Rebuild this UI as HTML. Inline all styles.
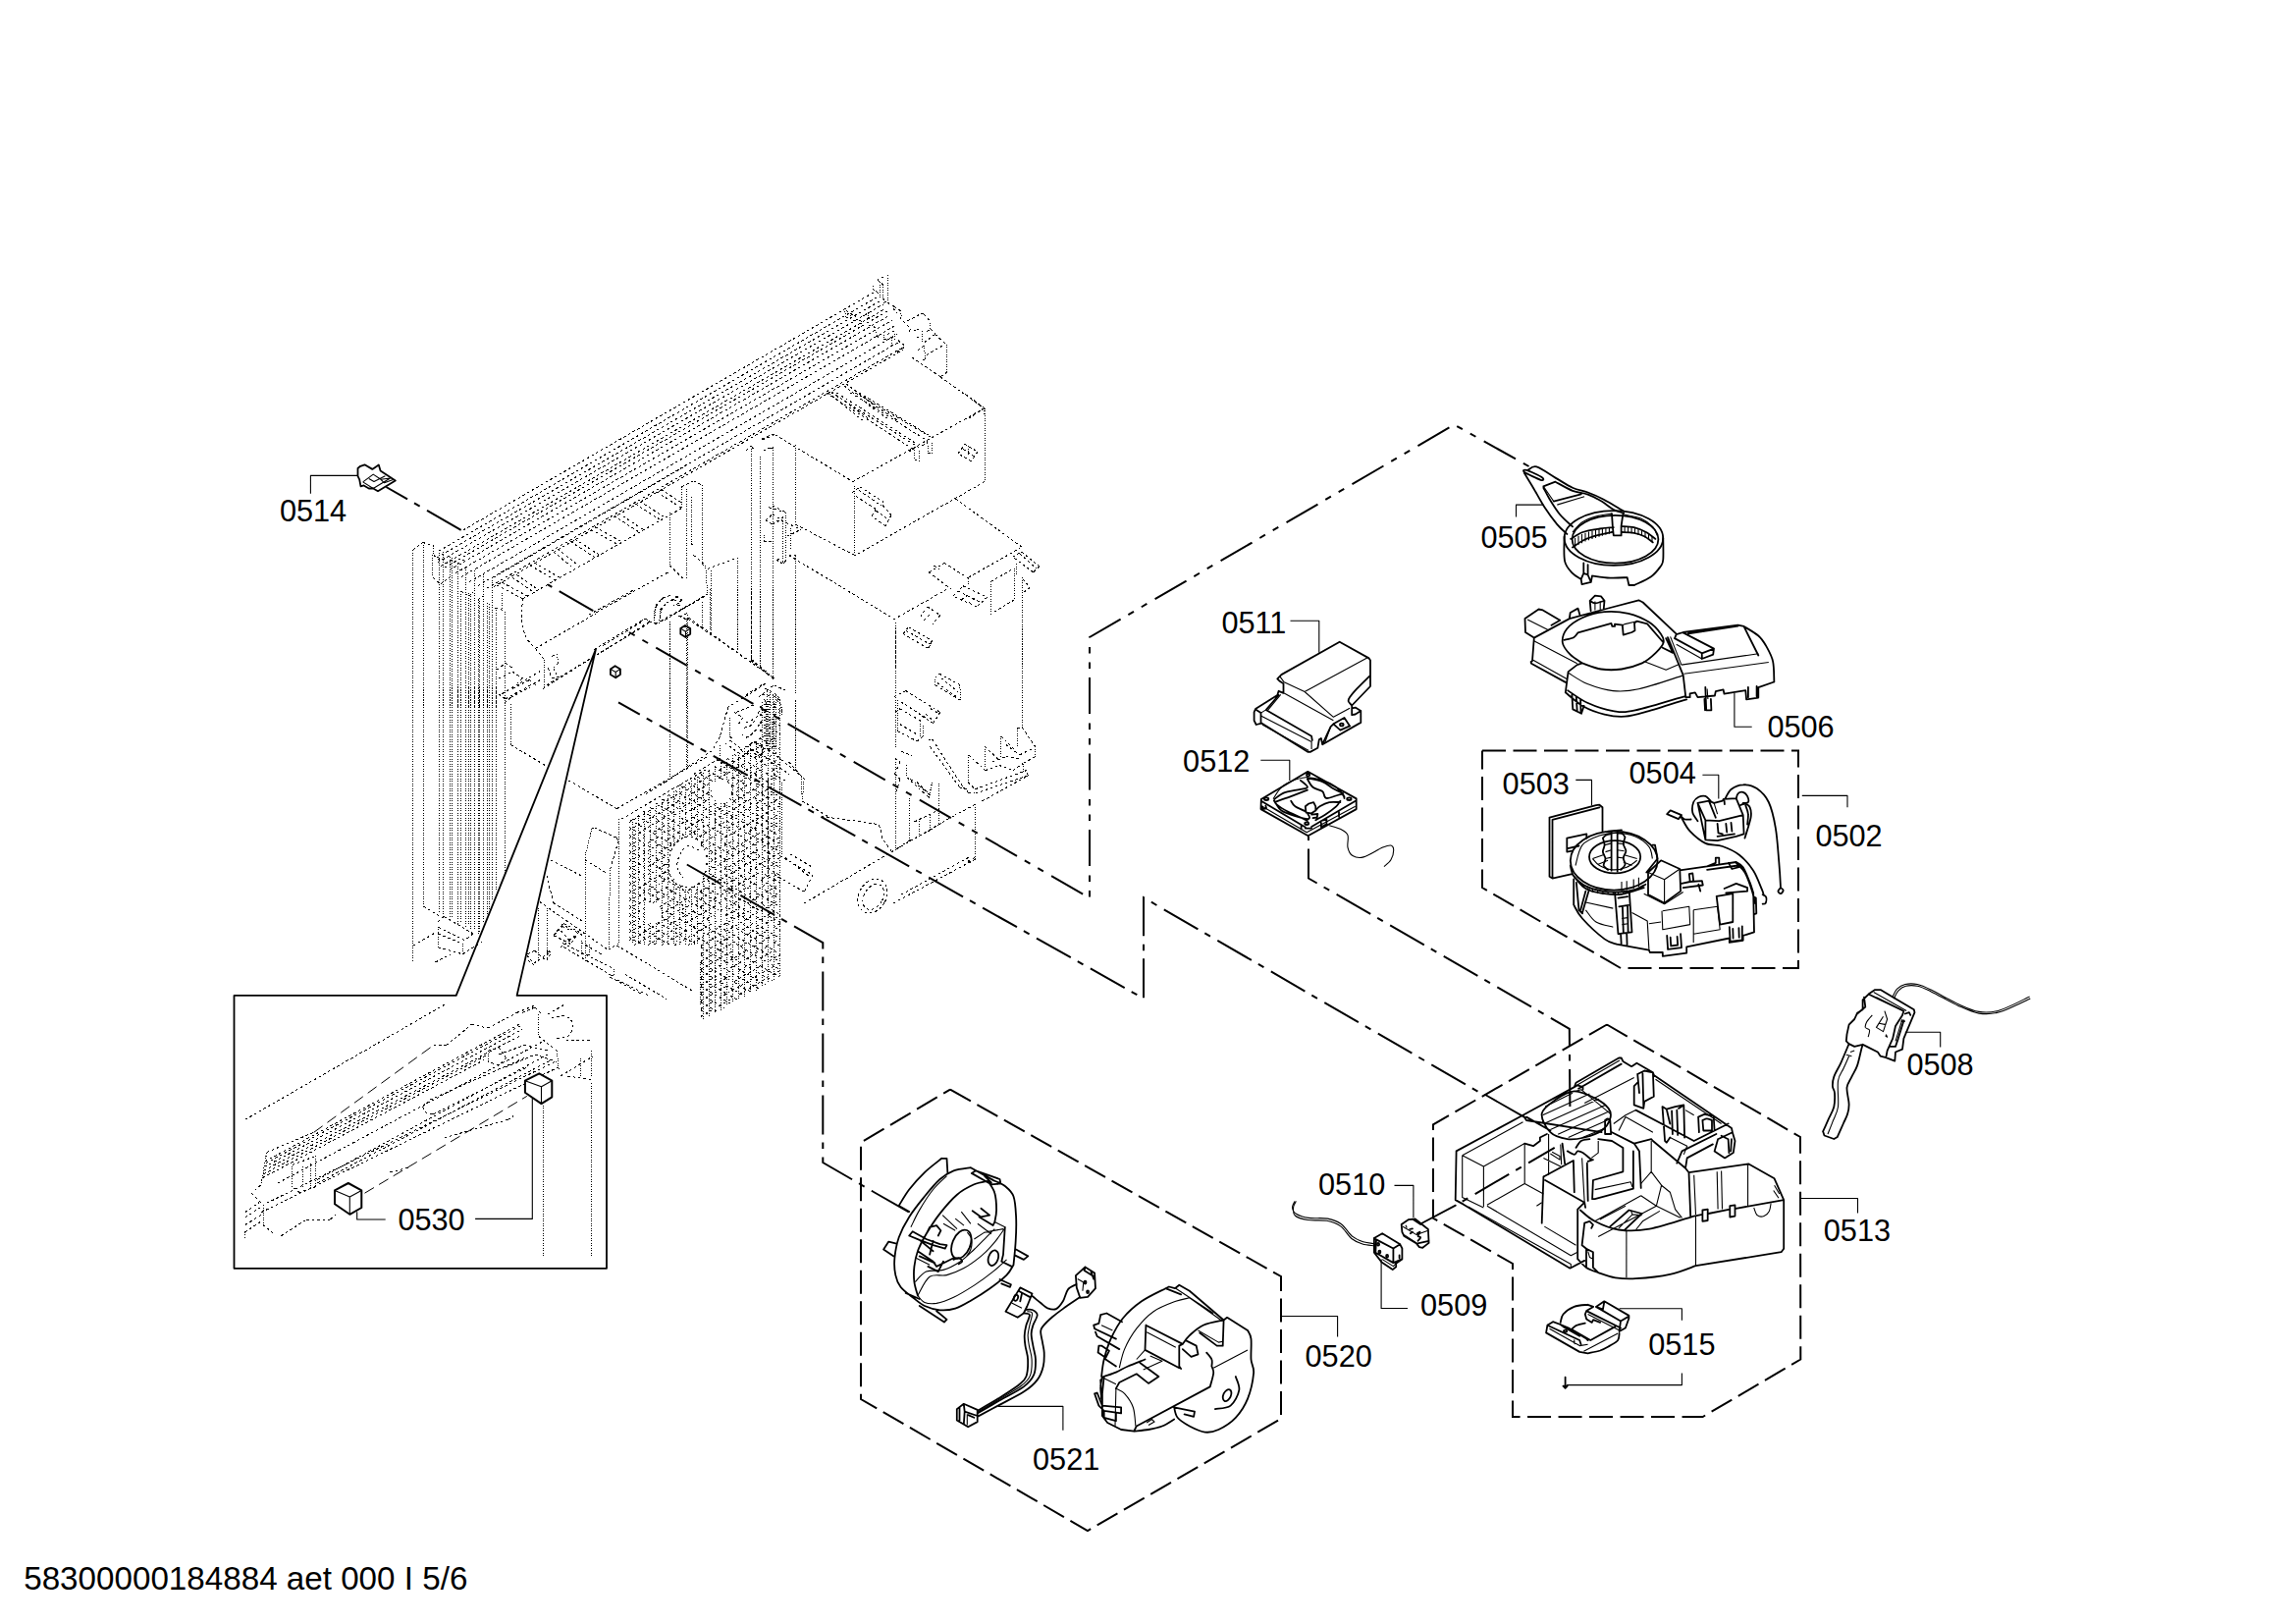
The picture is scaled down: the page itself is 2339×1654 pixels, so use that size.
<!DOCTYPE html><html><head><meta charset="utf-8"><title>0583 aet</title><style>html,body{margin:0;padding:0;background:#fff}svg{display:block}</style></head><body><svg width="2339" height="1654" viewBox="0 0 2339 1654"><rect width="2339" height="1654" fill="#fff"/><g fill="none" stroke="#000" stroke-width="1" stroke-dasharray="2.6 2.8" shape-rendering="crispEdges"><path d="M249.6 1140.4L454.6 1022.2M441.6 1064.6L454.6 1064.6M454.6 1064.6L480.4 1043.4M480.4 1043.4L497.1 1047.1M497.1 1047.1L526.6 1031.4M526.6 1031.4L545.1 1024M271.7 1173.6L319.7 1153.3M269.9 1182.9L530.3 1042.5M270.8 1184.7L531.2 1044.3M269.5 1188.4L531.8 1048.4M268.9 1192.1L532.2 1053.6M268.4 1195.8L497.1 1073.9M267.7 1199.5L493.4 1079.4M282.8 1205L552.5 1061M323.4 1201.3L558 1073.9M323.4 1205L561.7 1079.4M271.7 1225.3L565.4 1081.3M266.2 1234.6L569.1 1086.8M249.6 1254.9L266.2 1243.8M249.6 1247.5L268 1236.4M249.6 1240.1L266.2 1229M249.6 1234.6L264.3 1224.4M259.7 1212.4L268 1205M256 1215.2L268 1227.2M268 1247.5L279.1 1256.7M286.5 1258.6L312.4 1242M312.4 1242L336.4 1242M336.4 1242L341.9 1237.3M452.7 1158.8L517.4 1140.4M517.4 1140.4L522.9 1136.7M397.3 1193.9L415.8 1189.3M297.6 1186.6L321.6 1177.3M321.6 1208.7L305 1214.3M305 1214.3L297.6 1208.7M548.8 1055.4L567.2 1070.2M532.2 1031.4L545.1 1025.9M545.1 1025.9L552.5 1033.2M561.7 1036.9C564.2 1036.6 572.8 1033.9 576.5 1035.1C580.2 1036.3 583.6 1040.9 583.9 1044.3C584.2 1047.7 581.1 1053.3 578.3 1055.4C575.6 1057.6 569.1 1057 567.2 1057.3M430.6 1127.4L438 1120.1M438 1120.1L534 1077.6M430.6 1127.4C431.2 1128.4 432.4 1131.8 434.3 1133C436.1 1134.2 440.4 1134.5 441.6 1134.8M441.6 1134.8L537.7 1086.8M497.1 1070.2L508.1 1066.5M508.1 1066.5L515.5 1077.6M515.5 1077.6L508.1 1085M508.1 1085L497.1 1081.3M508.1 1073.9L534 1064.6M534 1064.6L559.9 1070.2M515.5 1086.8L545.1 1073.9M545.1 1073.9L567.2 1081.3M570.9 1096L604.2 1075.7M578.3 1096L602.3 1099.7M576.5 1059.1L604.2 1059.1M558 1033.2L576.5 1022.2M789.6 442.7L868.9 490.6M868.9 490.6L1003 415.7M1003 415.7L981.3 400M1003 490.6L871.5 565.5M810.5 534.1L870.6 565.5M841.9 400L931.6 458.4M931.6 467.9L936 469.7M847.1 400L936 455.7M866.3 400L944.7 448.8M945.5 461L949.9 461.8M871.5 400L949.9 446.2M925.5 460.1L931.6 456.6M939.4 454L944.7 450.5M852.3 400L934.2 452.3M875 400L948.2 444.4M976 461.8L983 452.3M983 452.3L996.1 460.1M996.1 460.1L989.1 469.7M989.1 469.7L976 461.8M981.3 457.5L991.7 464.5M868 501.9L875.9 495.8M875.9 495.8L900.2 511.5M899.4 515L908.1 524.6M908.1 524.6L902 535.9M902 535.9L888 525.4M888 525.4L892.4 518.5M892.4 518.5L870.6 504.5M875 499.3L897.6 515M892.4 520.2L904.6 528.9M787 515L800.9 522M800.9 570.7L797.5 574.2M797.5 574.2L787.9 568.1M780 529.8L787 523.7M787 523.7L797.5 530.7M780 529.8L787 534.1M787 534.1L794.8 529.8M778.3 551.6L786.1 551.6M800.9 532.4L815.7 539.4M801.8 546.3L815.7 539.4M803.6 565.5L810.5 565.5M803.6 565.5L911.6 630.8M915.1 628.2L967.3 598.6M986.5 588.2L1038.7 558.5M973.4 508L1040.5 556.8M1009.1 592.5L1033.5 578.6M1033.5 610.8L1009.1 625.6M946.4 582.9L962.1 573.3M962.1 573.3L986.5 589M946.4 582.9L969.1 600.3M951.6 576L956.9 579.4M970.8 607.3L981.3 596.9M981.3 596.9L1005.6 608.2M1005.6 608.2L995.2 617.8M995.2 617.8L970.8 607.3M976 602.1L1000.4 614.3M979.5 610.8L986.5 605.6M986.5 614.3L993.4 609.1M1031.8 567.2L1040.5 562M1040.5 562L1058.8 576.8M1058.8 576.8L1052.7 582.9M1052.7 582.9L1031.8 567.2M1038.7 563.8L1056.2 579.4M1042.2 589.9L1049.2 598.6M1049.2 598.6L1042.2 603.8M937.7 628.2L944.7 617.8M944.7 617.8L957.7 626.5M957.7 626.5L949.9 636.1M941.2 631.7L948.2 624.7M920.3 645.6L925.5 638.7M925.5 638.7L949.9 652.6M949.9 652.6L945.5 660.5M945.5 660.5L920.3 645.6M922.9 642.2L947.3 656.1M949 653.5L945.5 660.5M765.2 671.8L772.2 678.7M760 459.2L765.2 454M776.6 447L786.1 442.7M786.1 442.7L789.6 442.7M777.4 459.2L787 454.9M900 282L894.2 285.1M894.2 285.1L899.4 289.8M889 294.5L895.3 298.7M899.4 303.9L902.6 307M902.6 307L899.4 309.1M904.1 308.1L910.9 312.3M910.9 312.3L917.2 316.4M918.3 322.7L916.2 325.9M909.9 314.4L914.1 318.5M861.3 322.7L866 324.8M866 319.6L872.3 322.7M861.8 316.4L870.2 321.7M869.1 326.9L877.5 326.9M879.6 321.7L884.8 318.5M884.8 323.8L881.7 326.9M884.8 331.1L891.1 333.2M893.2 341.5L895.3 343.6M900.5 345.7L908.8 343.6M903.6 340.5L910.9 337.3M915.1 346.8L920.3 350.9M920.3 354.1L914.1 358.3M924.5 326.9L938.1 319.6M938.1 319.6L941.3 320.1M941.3 320.1L947 326.4M920.3 326.9L927.7 335.3M927.7 335.3L924.5 339.4M930.8 337.3L933.9 335.3M933.9 335.3L939.2 337.3M933.9 343.6L938.1 342.6M944.4 337.3L948.6 335.3M948.6 335.3L952.7 340.5M952.7 340.5L964.2 350.9M964.8 379.2L958 383.9M952.7 340.5L941.3 348.8M960.1 352L943.3 361.9M942.8 365.6L940.2 366.6M941.3 352L932.9 358.3M929.2 364L958 383.9M958 383.9L1002.4 415.7M1002.4 415.7L985.2 427.2M859.7 392.7L889 415.7M889 415.7L906.8 428M861.8 390.7L893.2 414.7M893.2 414.7L914.1 428M844 400.1L878.5 428M847.2 399L886.9 428M471.6 540.1L893 296.1M447 561.2L896 301.2M445 568L898 305.7M446 572.7L900 309.9M449 576.7L902 314.4M453 578.1L904 317M458 580.6L906 321.2M464 583.7L909 326.1M470 587.5L911 332.2M478 592.8L914 340.4M487 596.5L916 348.1M496 599.2L919 354.3M503 597.7L920 356.3M420.6 560.2L430.5 552.4M430.5 552.4L441.8 555.9M440.9 588.1L444.4 590.7M441.8 565.4L450.5 572.4M440.9 588.1L448.8 595.1M448.8 595.1L457.5 588.1M466.2 574.1L473.2 569.8M469.7 602L477.5 607.2M477.5 607.2L481.9 603.8M487.1 610.7L492.3 607.2M504.5 619.4L511.5 621.2M502.8 588.1L696.2 475.7M506.3 595.9L532.4 609.9M532.4 609.9L696.2 516.7M511.5 593.3L537.6 607.2M522 588.1L544.6 603.8M526.3 585.5L549 601.1M540.2 575.9L565.5 590.7M544.6 573.3L569.9 588.1M563.8 562L582.9 577.6M568.1 559.3L588.2 575M581.2 551.5L606.4 568M585.5 548.9L610.8 565.4M602.1 539.3L630 555M606.4 536.7L634.3 552.4M625.6 525.4L650.9 541.9M630 522.8L655.2 539.3M647.4 513.2L671.8 528.9M651.7 510.6L676.1 526.2M669.2 501L694.4 517.5M673.5 498.4L696.2 513.2M532.4 609.9C532.3 613.5 531 625.1 531.5 631.6C532.1 638.2 533.6 644.3 535.9 649.1C538.2 653.9 543.9 658.5 545.5 660.4M545.5 660.4L607.3 624.7M607.3 623.8L682.2 582M545.5 660.4L554.2 671.7M553.3 701.3L661.3 633.4M661.3 633.4L668.3 635.1M668.3 635.1L720.6 605.5M556.8 697.8L657.8 636.9M515 711.8L553.3 690.9M511.5 706.6L549.8 683.9M506.3 682.2L515 675.2M515 675.2L522 680.4M508 690.9L522 683.9M522 683.9L532.4 690.9M532.4 690.9L525.4 697.8M522 701.3L539.4 692.6M539.4 692.6L548.1 699.6M562 668.2L567.2 666.5M569 675.2L563.8 680.4M563.8 680.4L567.2 687.4M558.5 680.4L562 690.9M562 690.9L570.7 689.1M682.2 575.9L696.2 589.8M704 553.2L706.6 556.7M715.3 574.1L718.8 577.6M694.4 495.7L706.6 489.7M706.6 489.7L715.3 494M706.6 565.4L718.8 575.9M720.6 579.4L751 568M668.3 617.7L675.3 609M675.3 609L685.7 605.5M673.5 621.2L678.7 614.2M678.7 614.2L687.5 610.7M685.7 611.6L689.2 607.2M689.2 607.2L694.4 610.7M694.4 610.7L692.7 616M692.7 616L687.5 616M687.5 624.7L720.6 605.5M692.7 628.2L699.7 624.7M701.4 629L788.5 690.9M776.3 447.8L788.5 443.5M765.9 455.7L769.3 457.4M787.6 455.7L783.3 457.4M765.9 671.7L788.5 690.9M783.3 516.7L800 521.9M779.8 528.9L786.8 534.1M786.8 534.1L800 525.4M778 551.5L788.5 551.5M792 568.9L800 574.1M772.8 710L788.5 697.8M788.5 697.8L800 703.1M431.4 923L447 932.6M520.2 758.4L555.1 779.3M514.1 715.7L520.2 710.5M520.2 710.5L539.4 700M508 707L515 712.2M446.2 938.7L452.3 933.4M452.3 933.4L481.9 950.9M481.9 950.9L473.2 957.8M473.2 957.8L446.2 943.9M446.2 964.8L471.4 971.8M446.2 950.9L471.4 961.3M420.9 963.1L441.8 950.9M443.6 980L459.2 971.8M471.4 971.8L490.6 959.6M579.4 794.9L628.2 823.7M628.2 823.7L722.3 769.7M633.4 834.1L722.3 781.9M603 843.7L605.6 842.9M605.6 842.9L628.2 853.3M628.2 853.3L630 856.8M630 856.8L621.3 886.4M596 876L617.8 889M561.1 876L595.1 893.4M556.8 891.6L563.8 919.5M563.8 919.5L596.9 940.4M549.8 918.6L619.5 967.4M619.5 967.4L630 961.3M563.8 952.6L574.2 940.4M574.2 940.4L589.9 949.1M589.9 949.1L581.2 961.3M581.2 961.3L563.8 952.6M570.7 964.8L581.2 957.8M537.6 971.8L544.6 968.3M544.6 968.3L556.8 978.7M556.8 968.3L561.1 971.8M561.1 971.8L556.8 977M591.6 959.6L612.5 971.8M774 720.5L786 713.5M774 728.5L792.9 717.5M774 736.5L795 724.3M774 744.5L784.3 738.5M754 764.1L787.9 744.4M641 837.6L666.3 822.9M669.4 821.2L694.6 806.5M702.7 801.8L725.3 788.7M732.5 784.6L758.6 769.4M761 768L789.2 751.7M641 845.6L658.2 835.6M660.4 834.3L691.2 816.5M696.5 813.4L723.8 797.6M731.9 792.9L759.1 777.1M767.5 772.2L787 760.9M641 853.6L672.1 835.6M674.8 834L688 826.3M691.6 824.3L724.7 805.1M741 795.6L766 781.1M770.1 778.7L792.3 765.9M641 861.6L659.4 850.9M665.5 847.4L689.5 833.5M697.9 828.6L724.2 813.3M745 801.3L775.6 783.6M784.5 778.4L795 772.3M641 869.6L671.7 851.8M680.4 846.8L712.1 828.4M718.1 824.9L731 817.4M745 809.3L775 791.9M781 788.4L795 780.3M641 877.6L671.5 859.9M680.4 854.8L692.5 847.7M700.2 843.3L720 831.8M723.1 830L740.1 820.1M747.5 815.9L778.4 797.9M780.7 796.6L795 788.3M641 885.6L668.2 869.8M672.6 867.3L688 858.4M697 853.1L719.1 840.3M728.1 835.1L745.6 825M748.1 823.5L772.5 809.4M774.7 808.1L789.4 799.5M641 893.6L652 887.2M660.1 882.5L677.6 872.4M708 854.8L739.5 836.5M744.2 833.8L765.2 821.6M770.9 818.3L795 804.3M641 901.6L664.4 888M670.8 884.4L681 878.4M714 859.3L734.3 847.5M741.4 843.4L757.1 834.3M761.2 831.9L794.7 812.5M641 909.6L664.2 896.2M666.2 895L681 886.4M717 865.5L727.5 859.5M733.8 855.8L759 841.2M761.4 839.8L786.4 825.3M791.7 822.2L795 820.3M641 917.6L668 902M675.1 897.8L684 892.7M719 872.4L745.2 857.2M754 852.1L770 842.8M775.2 839.8L795 828.3M641 925.6L659.7 914.8M663.9 912.3L682.8 901.4M719 880.4L736.2 870.4M740.8 867.7L769.4 851.2M771.6 849.9L795 836.3M641 933.6L657 924.3M665 919.7L694.3 902.7M717 889.5L731.5 881.1M736.5 878.2L763.3 862.7M766 861.1L783.7 850.8M788.1 848.3L795 844.3M641 941.6L656 932.9M672 923.6L690.1 913.2M696.6 909.4L727.9 891.2M733 888.2L748.4 879.3M751.3 877.7L774 864.5M777.3 862.6L795 852.3M641 949.6L655.4 941.3M674 930.5L703.4 913.5M707.8 910.9L720.9 903.3M724.9 900.9L754 884.1M757.9 881.8L776.2 871.2M781.1 868.4L795 860.3M641 957.6L673.1 939M676.2 937.2L686.3 931.3M694.9 926.4L726 908.3M734.9 903.1L755.4 891.3M764 886.3L795 868.3M646 962.7L673.9 946.5M681.7 942L707.7 927M713.3 923.7L730.2 913.9M734.6 911.3L750.1 902.4M752.6 900.9L776.7 886.9M780.7 884.6L795 876.3M660 962.6L691.7 944.2M698.5 940.2L730.7 921.6M739 916.8L770.6 898.5M776.6 895L786.9 889M674 962.5L699.9 947.5M705.6 944.2L725.5 932.6M734.1 927.6L758.8 913.3M763.2 910.8L779.2 901.4M787.3 896.8L795 892.3M687 962.9L705.4 952.2M708.8 950.3L731.7 937M739.4 932.6L753.5 924.4M761 920L793.1 901.4M701 962.8L730.8 945.6M732.8 944.4L757.9 929.8M765.9 925.2L777.1 918.7M781 916.4L795 908.3M714 963.3L734.2 951.6M739.5 948.5L768.1 931.9M770.1 930.7L781.4 924.2M784.3 922.5L795 916.3M714 971.3L747.4 951.9M755.4 947.3L767.4 940.3M773 937.1L790.5 926.9M714 979.3L738.1 965.3M742.6 962.7L757.2 954.2M761.5 951.7L774.5 944.2M780.4 940.8L795 932.3M714 987.3L725.9 980.4M729.2 978.5L748.1 967.5M754.4 963.9L783.1 947.2M787.8 944.5L795 940.3M714 995.3L734.4 983.5M739 980.8L760.9 968.1M767.8 964.1L787.9 952.4M714 1003.3L736.9 990M743.7 986L755.4 979.2M760.4 976.4L780.6 964.6M788.8 959.9L795 956.3M714 1011.3L745.5 993M753.1 988.6L769.4 979.2M774.6 976.1L787.6 968.6M714 1019.3L739.9 1004.3M748.1 999.5L777.1 982.7M783.8 978.8L795 972.3M714 1027.3L726.5 1020M732.6 1016.5L742.7 1010.6M745.7 1008.9L774.3 992.3M776.6 991L788.8 983.9M791.5 982.3L795 980.3M714 1035.3L724.6 1029.2M732.5 1024.6L745.4 1017.1M753.3 1012.5L779.4 997.3M787.3 992.8L795 988.3M791 713.4L795 715.7M779 714.4L795 723.7M774 719.5L795 731.7M774 727.5L795 739.7M774 735.5L785.5 742.2M789.7 744.6L795 747.7M774 743.5L789.8 752.7M774 751.5L795 763.7M768 756L786.8 767M791.6 769.7L795 771.7M761 760L773 766.9M778.5 770.1L795 779.7M755 764.5L782.9 780.7M786.1 782.5L795 787.7M748 768.4L774.2 783.6M779.8 786.9L795 795.7M741 772.4L772.5 790.7M775.6 792.4L787.9 799.6M734 776.3L766 794.9M771.6 798.1L792.3 810.1M728 780.8L742.5 789.2M746.3 791.5L761.1 800M767.2 803.6L784.8 813.8M788.4 815.9L795 819.7M721 784.8L737 794.1M741 796.4L760.9 807.9M768.9 812.6L792.9 826.5M714 788.7L728 796.8M745 806.7L766.5 819.2M771.2 821.9L785.3 830.1M789.8 832.7L795 835.7M707 792.7L720.4 800.5M743 813.5L764.5 826M770.7 829.6L791.9 841.9M701 797.2L726 811.7M737 818.1L758.6 830.6M765.6 834.6L795 851.7M694 801.1L721.6 817.1M730.3 822.2L751.5 834.5M755.2 836.6L770.8 845.7M777.8 849.7L795 859.7M688 805.6L718.5 823.3M722.2 825.5L736.7 833.9M740.5 836.1L755 844.5M762 848.5L792.6 866.3M681 809.6L697.1 818.9M705.2 823.6L722.7 833.8M727.7 836.6L755.2 852.6M757.8 854.1L770 861.2M777.8 865.7L794.8 875.6M675 814.1L698.9 828M705.7 831.9L715.8 837.8M720.2 840.3L740.6 852.2M746 855.3L761.1 864M767.2 867.6L795 883.7M668 818L691.1 831.4M693.9 833.1L710.5 842.7M717.2 846.5L729.9 853.9M738.1 858.7L769.9 877.1M772.6 878.7L795 891.7M662 822.6L690.5 839.1M697.8 843.3L714.9 853.3M721.7 857.2L747.4 872.1M755 876.5L771.4 886M778.7 890.2L795 899.7M655 826.5L677.9 839.8M680.7 841.4L700 852.6M714 860.7L741.2 876.5M748 880.4L771.6 894.1M774.9 896L795 907.7M649 831L663.3 839.3M671.5 844.1L691 855.4M719 871.6L751.4 890.4M754.4 892.1L772.3 902.5M779.4 906.6L795 915.7M642 835L667.5 849.8M672.7 852.8L686 860.5M719 879.6L730.6 886.4M737.7 890.4L765.8 906.7M771.6 910.1L795 923.7M641 842.4L657.4 851.9M662.1 854.6L683 866.7M718 887L740.1 899.9M743.8 902L772.3 918.5M776.8 921.1L794.8 931.6M641 850.4L664 863.7M671.4 868L681 873.6M716 893.9L728.7 901.2M732.6 903.5L745 910.7M747.8 912.3L776.5 928.9M783.6 933.1L795 939.7M641 858.4L661 870M668.2 874.2L681 881.6M711 899L735.2 913M738.2 914.8L757.8 926.1M761.1 928.1L783.8 941.2M789.8 944.7L795 947.7M641 866.4L669.8 883.1M672 884.3L683 890.7M704 902.9L736.8 921.9M741.5 924.7L764.7 938.1M770.8 941.7L795 955.7M641 874.4L667.5 889.7M671.6 892.1L702.2 909.9M707.6 913L732 927.2M739.1 931.3L749.2 937.1M756.6 941.4L782.5 956.4M787.9 959.6L795 963.7M641 882.4L655.6 890.9M661.3 894.2L672.2 900.5M677.7 903.7L703.2 918.5M708.4 921.4L731.9 935.1M740.7 940.2L772.1 958.4M775 960.1L795 971.7M641 890.4L652.2 896.9M656.7 899.5L672.3 908.6M674.9 910L697.8 923.3M706.3 928.3L724.1 938.6M732.2 943.3L758.8 958.7M761.8 960.4L792.4 978.2M641 898.4L673.2 917.1M680.3 921.2L708 937.2M712.4 939.8L741.8 956.8M750.3 961.8L781 979.6M786 982.5L795 987.7M641 906.4L653.6 913.7M655.9 915L664 919.7M673 924.9L686.9 933M692.3 936.2L719.1 951.7M724.9 955L745 966.7M751.6 970.5L768.9 980.5M774.1 983.6L794 995.1M641 914.4L655.3 922.7M674 933.5L701.3 949.3M705.8 952L724.7 963M730.4 966.3L754.8 980.4M758.3 982.4L768.4 988.3M771.9 990.3L787 999.1M641 922.4L656 931.1M670 939.2L685 947.9M688.2 949.8L707.9 961.2M714 964.7L724.7 970.9M727.4 972.5L741.5 980.7M746.9 983.8L758.3 990.4M760.5 991.7L780 1003M641 930.4L667.9 946M670.2 947.3L689.9 958.8M714 972.7L729.3 981.6M731.9 983.1L753.3 995.5M756.5 997.3L773 1006.9M641 938.4L654 945.9M656.3 947.3L683 962.7M714 980.7L742.9 997.5M748.2 1000.5L766 1010.9M641 946.4L657 955.7M660.9 957.9L669 962.6M714 988.7L732.3 999.3M734.9 1000.9L759 1014.8M641 954.4L655 962.5M714 996.7L724.7 1002.9M727.4 1004.5L741.4 1012.6M743.7 1013.9L752 1018.8M714 1004.7L745 1022.7M714 1012.7L738 1026.6M714 1020.7L731 1030.6M714 1028.7L723 1033.9M716 858C713.3 857 705 851.3 700 852C695 852.7 689.2 857.3 686 862C682.8 866.7 681 874 681 880C681 886 682.8 894 686 898C689.2 902 697.7 903 700 904M712 866C710 865.3 703.3 861 700 862C696.7 863 693.7 868.3 692 872C690.3 875.7 689.3 880.3 690 884C690.7 887.7 695 892.3 696 894M765.2 673.1L787.9 691.4M760 707.9L779.2 695.7M952.5 690.5L956.9 686.2M956.9 686.2L977.8 697.5M978.6 713.2L952.5 697.5M958.6 690.5L976 704.5M955.1 695.7L974.3 709.7M910.7 709.7L922.9 703.6M922.9 703.6L957.7 725.4M957.7 725.4L950.8 736.7M950.8 736.7L936 727.1M914.2 744.5L934.2 755M934.2 755L940.3 749.8M911.6 725.4L916.8 721.9M916.8 721.9L937.7 734.1M917.7 714.9L942.9 730.6M942.9 727.1L951.6 734.9M948.2 721.9L956.9 727.1M916.8 737.6L934.2 748M945.5 754.1L949.9 753.2M949.9 753.2L981.3 802M981.3 802L986.5 807.2M986.5 807.2L993.4 808.1M993.4 808.1L1047.5 789.8M1047.5 789.8L1045.7 787.2M947.3 760.2L977.8 802M977.8 802L984.7 803.8M986.5 796.8L993.4 803.8M993.4 803.8L1045.7 784.6M986.5 768.9L1003.9 784.6M1003 760.2L1017.8 774.1M1019.6 749.8L1033.5 763.7M1036.1 741.9L1041.4 741M1041.4 741L1054.4 760.2M1054.4 770.7L1042.2 777.6M1003.9 784.6L1017.8 779.4M1017.8 779.4L1031.8 784.6M1031.8 784.6L1042.2 777.6M1010.9 775.9L1024.8 770.7M1024.8 770.7L1038.7 772.4M1024.8 758.5L1038.7 768.9M1038.7 768.9L1052.7 762M993.4 819.4L973.4 829.9M1000.4 816L1047.5 789.8M913.3 864.7L973.4 829.9M819.2 920L913.3 864.7M993.4 875.2L909.8 920M993.4 873.4L986.5 876.9M986.5 876.9L990 880.4M986.5 873.4L916.8 911.8M926.4 856L913.3 864.7M931.6 836.9L956.9 824.7M927.2 856L936 851.7M936 851.7L947.3 845.6M947.3 845.6L958.6 838.6M911.6 772.4L916.8 775.9M916.8 775.9L911.6 788.1M911.6 788.1L916.8 793.3M916.8 793.3L913.3 807.2M923.8 791.6L946.4 812.5M918.5 765.4L929 769.8M927.2 793.3L944.7 807.2M934.2 796.8L948.2 810.7M836.7 831.6C839 831.9 841.9 832.2 850.6 833.4C859.3 834.5 881.4 837.2 888.9 838.6C896.5 840.1 894.1 839.5 895.9 842.1C897.6 844.7 897.3 850.2 899.4 854.3C901.4 858.4 906.6 864.4 908.1 866.5M817.5 816L843.6 831.6M760 735.8C761.7 734.9 768.1 732.9 770.5 730.6C772.8 728.3 773.4 723.3 773.9 721.9M760 751.5C761.5 750.3 766.1 747.4 768.7 744.5C771.3 741.6 774.5 735.8 775.7 734.1M763.5 758.5C764.9 758.2 769.9 756.1 772.2 756.7C774.5 757.3 777.1 759.3 777.4 762C777.7 764.6 774.5 770.7 773.9 772.4M779.2 701L789.6 706.2M789.6 706.2L796.6 720.1M794.8 871.7L827.9 890.9M827.9 890.9L819.2 908.3M819.2 908.3L786.1 889.1M800.1 873.4L824.5 892.6M805.3 870L828.8 883.9M810.5 784.6L819.2 793.3M803.6 775.9L815.7 789.8M715.6 637.9L712.4 639.2M700.6 630.1L789.5 691.5M779.7 696.7L741.8 720.2M741.8 720.2L733.3 750.3M733.3 750.3L725.4 764.6M725.4 764.6L678.4 796M678.4 796L656.2 810M750.3 725.4L768.6 717.6M755.5 747.7C756.6 748.1 759.2 751.4 762 750.3C764.9 749.2 770.7 742.6 772.5 741.1M758.1 741.1C759 740.9 761.6 740.9 763.3 739.8C765.1 738.7 767.7 735.5 768.6 734.6M743.7 750.3L747.7 754.2M747.7 725.4L756.8 730.7M756.8 730.7L751.6 738.5M776.4 707.1L793.4 709.8M777.7 712.4L790.8 717.6M738.5 756.8L756.8 769.9M756.8 769.9L764.6 763.3M764.6 763.3L769.9 768.6M764.6 756.8C766.2 757 771.8 756.6 773.8 758.1C775.7 759.6 776.8 763.3 776.4 765.9C776 768.6 772 772.5 771.2 773.8M743.7 754.2L754.2 762M707.1 788.2L730.7 773.8M730.7 773.8L773.8 796M707.1 788.2L713.7 793.4M691.5 798.6L701.9 803.8M782.9 763.3L816.9 790.8M785.5 776.4L803.8 788.2M788.2 788.2L801.2 796M667.9 617L673.2 610.5M673.2 610.5L677.1 609.1M666.6 635.3L671.9 635.3M672.5 620.9L678.4 614.4M683.6 611.8L688.9 607.8M688.9 607.8L694.1 610.5M694.1 610.5L691.5 614.4M691.5 614.4L686.2 617M686.2 610.5L691.5 613.1M677.1 631.4L720.2 605.2M673.2 632.7L717.6 607.8M691.5 627.4L700.6 631.4M694.1 620.9L700.6 617M605.2 661.4L657.5 630.1M613.1 664L661.4 634M614.4 657.5L654.9 632.7M652.3 632.7L657.5 630.1M657.5 630.1L661.4 632M661.4 632L660.1 635.3M600 626.1L647 600M628.6 963.1L705.2 1009.1M572.8 960.3L625.8 986.8M625.8 992.3L621.6 995.1M621.6 995.1L655.1 1013.2M574.2 964.5L623 993.7M628.6 997.9L662 1014.6M636.9 992.3L678.7 1017.4M571.4 940.8L595.1 953.3M564.5 951.9L572.8 943.6M572.8 943.6L581.2 947.7M571.4 947.7L579.8 957.5M579.8 957.5L589.5 950.5M536.6 972.8L543.6 981.2M543.6 981.2L560.3 970M560.3 970L557.5 965.9M538 978.4L543.6 982.6M592.3 971.4L600.7 972.8"/><ellipse cx="888.9" cy="912.6" rx="13.9" ry="18.3" transform="rotate(30 888.9 912.6)"/><ellipse cx="889.8" cy="913.5" rx="9.6" ry="13.9" transform="rotate(30 889.8 913.5)"/></g><g fill="none" stroke="#000" stroke-width="1" stroke-dasharray="1 1.5" shape-rendering="crispEdges"><path d="M266.2 1205L271.7 1173.6M268 1227.2L268 1247.5M249.6 1254.9L249.6 1262.3M553.4 1125.6L553.4 1278.9M602 1103.4L602 1278.9M321.6 1177.3L321.6 1208.7M297.6 1208.7L297.6 1186.6M308.7 1188.4L308.7 1210.6M316 1184.7L316 1208.7M548.8 1033.2L548.8 1055.4M567.2 1070.2L569.1 1088.7M497.1 1081.3L497.1 1070.2M602.3 1070.2L602.3 1097.9M591.3 1077.6L591.3 1096M870.6 494.9L870.6 565.5M1003 415.7L1003 490.6M810.5 453.1L810.5 532.4M931.6 458.4L931.6 467.9M936 469.7L936 457.5M944.7 448.8L945.5 461M949.9 461.8L949.9 450.5M986.5 454L986.5 462.7M900.2 511.5L899.4 515M800.9 522L800.9 570.7M797.5 530.7L797.5 572.5M778.3 544.6L778.3 551.6M805.3 537.6L805.3 560.3M912.4 634.3L912.4 680M1041.4 588.2L1041.4 680M1033.5 578.6L1033.5 610.8M1009.1 625.6L1009.1 592.5M986.5 589L986.5 596.9M1035.3 574.2L1035.3 584.7M765.2 454L765.2 671.8M774.8 464.5L774.8 680M787 455.7L787 680M810.5 565.5L810.5 680M904.1 280.4L904.1 308.1M899.4 289.8L899.4 303.9M896.8 287.2L896.8 302.9M889.5 291.4L889 294.5M917.2 316.4L918.3 322.7M860.8 317L861.3 322.7M866 324.8L866 319.6M877.5 326.9L877.5 333.2M884.8 318.5L884.8 323.8M891.1 333.2L893.2 341.5M900.5 340.5L900.5 345.7M908.8 343.6L908.8 352M910.9 337.3L912 345.7M920.3 350.9L920.3 354.1M947 326.4L947.5 335.3M939.2 337.3L939.2 348.8M964.2 350.9L964.8 379.2M941.3 352L942.8 365.6M1002.4 415.7L1003.4 428M420.6 560.2L420.6 720M431.4 552.4L431.4 720M440.9 565.4L440.9 588.1M447.9 560.2L447.9 720M451.4 562L451.4 720M458.4 567.2L458.4 720M460.1 568L460.1 720M466.2 574.1L466.2 720M469.7 602L469.7 720M474 577.6L474 720M477.5 603.8L477.5 720M479.3 604.6L479.3 720M483.6 581.1L483.6 720M487.1 610.7L487.1 720M488.9 611.6L488.9 720M492.3 584.6L492.3 720M496.7 614.2L496.7 720M498.4 615.1L498.4 720M501 588.1L501 720M505.4 621.2L505.4 720M511.5 603.8L511.5 622.9M514.1 622.9L514.1 720M441.8 555.9L441.8 565.4M694.4 495.7L694.4 516.7M554.2 671.7L554.2 701.3M567.2 666.5L569 675.2M682.2 521.9L682.2 575.9M699.7 497.5L699.7 589.8M704 506.2L704 553.2M715.3 494L715.3 574.1M718.8 575.9L720.6 605.5M724 581.1L724 645.6M751 568L751 663M666.6 631.6L668.3 617.7M671.8 631.6L673.5 621.2M682.2 633.4L682.2 720M699.7 629.9L699.7 720M778 544.5L778 551.5M420.6 700L420.6 980M431.4 700L431.4 923M447.9 700L447.9 930M451.4 700L451.4 930.8M458.4 700L458.4 934.3M460.1 700L460.1 935.2M466.2 700L466.2 942.2M469.7 700L469.7 940.4M474 700L474 943.9M477.5 700L477.5 942.2M479.3 700L479.3 947.4M483.6 700L483.6 945.6M487.1 700L487.1 950.9M488.9 700L488.9 949.1M492.3 700L492.3 940.4M496.7 700L496.7 931.7M498.4 700L498.4 926.5M501 700L501 917.8M505.4 700L505.4 905.6M514.1 715.7L514.1 891.6M520.2 717.4L520.2 758.4M446.2 943.9L446.2 964.8M471.4 971.8L471.4 959.6M630 834.1L630 961.3M621.3 886.4L620.4 968.3M603 843.7L596 872.5M596 872.5L596 980M548.1 924.7L548.1 980M557.7 924.7L557.7 980M596.9 957.8L596.9 980M682.2 700L682.2 794.1M699.7 700L699.7 783.6M644 834L644 962M650 830L650 962M656 826L656 962M662 822L662 920M662 940L662 962M668 818L668 920M668 940L668 962M674 814L674 962M680 810L680 962M686 806L686 861M686 895L686 962M692 803L692 855M692 901L692 962M698 799L698 853M698 903L698 962M704 795L704 853M704 903L704 962M710 791L710 856M710 900L710 962M716 787L716 864M716 892L716 1038M722 784L722 1035M728 780L728 797M728 815L728 1032M734 777L734 794M734 818L734 1029M740 773L740 795M740 817L740 1025M746 769L746 1022M752 766L752 1019M758 762L758 1015M764 759L764 1012M770 755L770 1009M776 715L776 1005M782 714L782 1002M788 714L788 999M794 713L794 996M765.2 640L765.2 673.1M774.8 640L774.8 676.6M787 640L787 690.5M810.5 640L810.5 706.2M810.5 713.2L810.5 784.6M912.4 640L912.4 762M912.4 775.9L912.4 864.7M1041.4 640L1041.4 741M977.8 697.5L978.6 713.2M952.5 697.5L952.5 690.5M914.2 713.2L914.2 744.5M940.3 749.8L940.3 737.6M937.7 734.1L937.7 751.5M986.5 768.9L986.5 796.8M1003 760.2L1003 782.9M1019.6 749.8L1019.6 772.4M1036.1 741.9L1036.1 762M1054.4 760.2L1054.4 770.7M1042.2 777.6L1042.2 788.1M993.4 819.4L993.4 875.2M926.4 812.5L926.4 856M936 836L936 854.3M947.3 829.9L947.3 845.6M956 797.7L956 840.3M923.8 779.4L923.8 791.6M946.4 812.5L949.9 795.1M796.6 720.1L796.6 727.1M780.9 716.7L780.9 762M786.1 732.3L786.1 765.4M790.5 734.1L790.5 762M796.6 796.8L796.6 871.7M782.6 793.3L782.6 892.6M819.2 793.3L817.5 814.2M682.3 632.7L682.3 793.4M700.6 626.1L700.6 782.9M715.6 613.1L715.6 637.9M723.5 600L723.5 641.8M751.6 600L751.6 662.7M765.9 600L765.9 673.2M774.4 600L774.4 678.4M787.5 600L787.5 688.9M810.4 600L810.4 705.8M810.4 713.7L810.4 780.3M743.7 730.7L743.7 750.3M781 701.9L781 763.3M784.2 704.5L784.2 764.6M787.5 707.1L787.5 762M790.8 709.8L790.8 763.3M793.4 709.8L796 721.5M796 721.5L796 728.1M733.3 759.4L733.3 772.5M816.9 790.8L816.9 809.1M775.1 768.6L775.1 793.4M666.6 623.5L667.9 617M666.6 623.5L666.6 635.3M671.9 635.3L672.5 620.9M625.8 986.8L625.8 992.3M592.3 957.5L592.3 971.4M600.7 972.8L600.7 960.3M713.6 979.8L713.6 1024"/></g><g fill="#fff" stroke="#000" stroke-width="2" stroke-linejoin="round" stroke-linecap="round"><path d="M354.8 1205L368.3 1212.4L368.3 1230L356.3 1236.8L341 1226.3L341 1212.4ZM549.3 1093.3L562.3 1100.7L562.3 1117.3L551.5 1124.1L534.9 1112.7L534.9 1100.7Z"/></g><g fill="#fff" stroke="none"></g><g fill="none" stroke="#000" stroke-width="1.1" stroke-linejoin="round"><path d="M1572.3 514.1L1544.5 514.1L1544.5 526.6M1586.3 514.1L1614.1 505.7M1572.3 495.3L1582.8 510.6M1602 542C1603.7 540.2 1608 534.3 1612.4 531.5C1616.8 528.7 1623.1 526.8 1628.1 525.4C1633 524 1639.7 523.5 1642 523.1M1654.2 524C1657.1 524.7 1666.7 525.9 1671.6 528C1676.6 530.1 1681.1 533.8 1683.8 536.7C1686.6 539.6 1687.5 544 1688.2 545.4M1604.6 557.6L1604.6 548M1608 555L1608 545.8M1611.5 553.3L1611.5 544M1615 551.5L1615 542.8M1618.5 550.3L1618.5 541.6M1622 548.9L1622 540.6M1625.5 548L1625.5 539.9M1629 546.8L1629 539.2M1632.4 545.8L1632.4 538.5M1635.9 544.7L1635.9 538.1M1639.4 543.7L1639.4 537.8M1655.1 542.8L1655.1 536.4M1658.6 542.8L1658.6 536.7M1662.1 543.3L1662.1 537.2M1665.5 544L1665.5 537.8M1669 545.1L1669 538.8M1672.5 546.1L1672.5 540.2M1676 547.5L1676 542M1679.5 549.8L1679.5 544M1683 552.1L1683 546.5M1766.9 705.9L1766.9 740.2L1784.7 740.2M1556.1 630.9L1577 641.4M1624.9 612.6L1624.9 621.4M1630.2 612.6L1630.2 621M1562.2 652.4L1606.7 675.7M1561.4 671.9L1596.2 691.4M1667.6 632.7L1655.4 635.6L1652.8 636.7M1674.6 673.6L1697.2 682.3L1711.2 676.2M1597.9 685.5C1601.1 687.3 1609.6 693.6 1617.1 696.6C1624.7 699.6 1634.5 702.7 1643.2 703.6C1652 704.5 1657.5 704.5 1669.4 701.8C1681.3 699.2 1707.1 690.2 1714.7 687.9M1701.6 648.4L1712.9 677.1M1712.9 677.1L1791.3 665.8M1715.5 686.2L1801.8 674.5M1707.7 656.2L1733.8 671M1739.1 701.5L1739.9 712M1605.3 794.4L1621.5 794.4L1621.5 820.5M1734.4 789.2L1750.8 789.2L1750.8 813.6M1835.8 810.4L1882 810.4L1882 822.3M1605 881.5C1606.1 878 1607.9 865.7 1612 860.6C1616 855.5 1623.6 853 1629.4 851C1635.2 849 1640.7 848.3 1646.8 848.4C1652.9 848.5 1660.4 849.6 1666 851.9C1671.5 854.2 1677 858.6 1679.9 862.3C1682.8 866.1 1682.8 872.5 1683.4 874.5M1622.4 874.5C1623.6 875.7 1625.9 879.6 1629.4 881.5C1632.9 883.4 1638.7 885.6 1643.3 885.9C1648 886.1 1653.2 884.8 1657.2 883.2C1661.3 881.6 1666 877.4 1667.7 876.3M1634.6 860.6L1641.6 858.9M1635.5 867.6L1641.6 865.8M1635.5 874.5L1641.6 873.1M1647.7 858.9L1654.6 859.7M1647.7 865.8L1654.6 866.7M1647.7 873.1L1654.6 874M1622.4 874.5L1634.6 870.2M1627.6 880.6L1638.1 876.3M1667.7 874.5L1655.5 871M1662.5 881.5L1653.8 878M1612 899.8L1612 903.3M1617.2 902.8L1617.2 906.2M1622.4 905L1622.4 908.5M1627.6 906.4L1627.6 909.9M1632.9 907.6L1632.9 910.8M1638.1 908.2L1638.1 911.1M1643.3 908.5L1643.3 911.5M1648.5 908.5L1648.5 911.5M1653.8 908.2L1653.8 911.1M1664.2 895.4L1664.2 905M1669.4 893.7L1669.4 903.3M1657.2 897.2L1657.2 906.8M1652 898L1652 907.6M1615.4 919L1643.3 925.1M1615.4 926.8C1617.2 928.8 1621.2 936.1 1625.9 939C1630.5 941.9 1640.4 943.3 1643.3 944.2M1662.5 929.4L1678.2 938.1L1679.9 966.9M1652 935.5L1658.1 934.6M1652.4 941.6L1658.5 940.7M1679 888.5L1695.6 895.8L1711.3 885M1695.6 895.8L1695.6 919.8M1674.7 910.2L1695.6 920.7L1714.7 908.5M1693.8 927.7L1720.8 923.3L1721.7 941.6L1693.8 946.8L1693 927.7M1725.2 926.8L1749.6 923.3L1752.2 946.8L1725.2 951.2L1725.2 926.8M1679.9 940.7L1692.1 939M1725.2 951.2L1725.2 959.9M1746.1 817.9L1749.6 829.2M1314.5 632.3L1343.8 632.3L1343.8 664.8M1284.3 774.2L1313.8 774.2L1313.8 795.1M1304 689.2L1308.2 694.8L1329.1 704.5L1393.2 669.7M1329.1 704.5L1358.4 730.3L1375.1 721.3M1308.2 705.9L1358.4 733.8M1304.7 707.3L1291.5 723.3M1284.5 726.1L1290.1 722.6M1284.5 728.9L1336.1 755.4L1336.1 763.1M1285.9 738L1333.3 764.5M1355.6 740.1L1349.3 757.5M1285.9 821.3L1331.2 847.8L1380.7 821.3M1297.1 813.7C1298.5 811.7 1301.7 805.1 1305.4 801.8C1309.2 798.6 1314.9 795.9 1319.4 794.1C1323.9 792.4 1330.2 791.8 1332.3 791.4M1354.2 840.8C1356.3 841.5 1363.6 843.4 1366.8 845C1369.9 846.6 1372 847.6 1373 850.6C1374.1 853.6 1372.2 859.7 1373 863.1C1373.8 866.6 1375.2 869.9 1377.9 871.5C1380.6 873.1 1383.9 874.3 1389.1 872.9C1394.2 871.5 1403.9 865.1 1408.6 863.1C1413.2 861.2 1415.1 860.6 1416.9 861C1418.8 861.5 1419.7 863.5 1419.7 865.9C1419.7 868.4 1418.6 872.9 1416.9 875.7C1415.3 878.5 1411.1 881.5 1410 882.6M1489.7 1176.8L1489.7 1219.4L1511.4 1229.9M1489.7 1176.8L1551.5 1142.8M1489.7 1176.8L1511.4 1188.1L1511.4 1229M1511.4 1188.1L1553.2 1164.6L1553.2 1205.5L1514.9 1227.3M1553.2 1205.5L1572.4 1216M1514.9 1228.2L1600.3 1278.7L1607.2 1275.2M1495.7 1229L1600.3 1287.4L1600.3 1291.7M1577.6 1155L1577.6 1196.8M1573.3 1249.1L1605.5 1268.2M1565.4 1228.2L1570.7 1224.7M1611.6 1179.4L1614.2 1224.7M1589.8 1165.4L1590.7 1186.3M1572.4 1179.4L1589.8 1188.1M1579.4 1175L1589 1181.1L1589 1177.6L1581.1 1173.3M1606.4 1105.3L1649.9 1080.1M1686.5 1099.2L1753.6 1144.5M1614.2 1123.6L1664.7 1097.5M1574.1 1127.1L1602 1113.2M1571.5 1135.8L1619.4 1114M1573.3 1144.2L1629 1119.3M1579.4 1150.6L1635.5 1125.4M1587.2 1155.3L1639 1132M1597.7 1158.5L1640 1139.7M1611.6 1158.8L1635.1 1148.9M1603.8 1111.8L1610.7 1109.7L1640.3 1134.1M1624.7 1211.6L1661.3 1203.8L1663 1209M1628.2 1162L1628.2 1174.1L1621.2 1179.4M1649.1 1151.5L1656 1137.6L1683.9 1153.2M1643.8 1144.5L1656 1135.8L1666.5 1130.6M1682.2 1162L1682.2 1193.3L1671.7 1205.5M1682.2 1193.3L1692.6 1207.2L1687.4 1228.2L1711.8 1240.3M1692.6 1207.2L1701.3 1214.2L1706.6 1231.6L1713.5 1240.3M1671.7 1217.7L1687.4 1228.2L1628.2 1259.5M1624.7 1243.8L1671.7 1217.7M1656 1228.2L1629.9 1242.1M1649.1 1250.8L1663 1236.9L1661.3 1232.5M1663 1236.9L1672.6 1237.7M1666.5 1252.5L1673.4 1243.8L1690.9 1233.4M1717 1130.6L1725.7 1135.8M1701.3 1158.5L1718.7 1167.2L1715.3 1175.9M1656.9 1253.4L1656.9 1301.3M1727.5 1238.6L1727.5 1289.1M1725.7 1196.8L1727.5 1236.9M1749.2 1193.3L1750.1 1231.6M1753.6 1192.4L1754.5 1231.6M1780.6 1186.3L1780.6 1228.2M1786.7 1229.9C1787.3 1231.2 1788.4 1236.3 1790.2 1237.7C1791.9 1239.2 1795.1 1239.3 1797.1 1238.6C1799.2 1237.9 1801.2 1235.6 1802.4 1233.4C1803.5 1231.2 1803.8 1226.8 1804.1 1225.5M1807.6 1207.2L1812.8 1216M1806.7 1212.5L1812 1220.3M1617.7 1274.3L1619.4 1280.4L1622.9 1282.2M1834.6 1220.5L1892.5 1220.5L1892.5 1235.6M1940.8 1051.3L1976.7 1051.3L1976.7 1066.6M1908.7 1010.5L1942.2 1029.4M1911.5 1015.7L1938 1029M1938 1038L1931 1060.3M1907.3 1033.9C1906.4 1035 1902.9 1038.7 1901.7 1040.8C1900.6 1042.9 1899.9 1045 1900.3 1046.4C1900.8 1047.8 1904.1 1047.6 1904.5 1049.2C1905 1050.8 1903.4 1055 1903.1 1056.2M1918.5 1035.3L1911.5 1046.4L1918.5 1050.6L1922.6 1038L1919.9 1029.7M1914.3 1042.2L1921.3 1043.6M1921.3 1053.4L1922.6 1056.2L1920.6 1054.8M1883.6 1075.7C1882.7 1077.8 1879.9 1084 1878 1088.2C1876.2 1092.4 1873.4 1094.3 1872.5 1100.8C1871.5 1107.3 1873.4 1120.3 1872.5 1127.2C1871.5 1134.2 1868.6 1137.9 1866.9 1142.6C1865.2 1147.2 1862.8 1153 1862 1155.1M1885 1071.5L1889.2 1070.1M1880.8 1074.3L1886.4 1075.7M1928.2 1015.1C1928.9 1013.8 1930.3 1009.5 1932.4 1007.4C1934.5 1005.3 1937.3 1003.3 1940.8 1002.5C1944.3 1001.7 1948.9 1001.6 1953.3 1002.5C1957.7 1003.4 1960.3 1004.7 1967.2 1008.1C1974.2 1011.5 1987 1019 1995.1 1022.7C2003.3 1026.4 2009.1 1029.3 2016 1030.4C2023 1031.4 2028.3 1031.5 2036.9 1029C2045.5 1026.4 2062.5 1017.4 2067.6 1015.1M1929.3 1017.1C1930.1 1015.8 1931.8 1011.2 1933.8 1009.1C1935.8 1006.9 1938.2 1005.1 1941.5 1004.3C1944.7 1003.5 1949 1003.4 1953.3 1004.3C1957.6 1005.2 1960.3 1006.6 1967.2 1009.9C1974.2 1013.2 1987 1020.7 1995.1 1024.4C2003.3 1028.1 2009.1 1031 2016 1032.1C2023 1033.1 2028.2 1033.3 2036.9 1030.8C2045.6 1028.3 2063.1 1019.2 2068.3 1016.9M1420.5 1207.4L1439.9 1207.4L1439.9 1240.1M1407.1 1282.6L1407.1 1332.5L1434 1332.5M1305.8 1340.5L1362.6 1340.5L1362.6 1361.4M1429.1 1249.2L1443.1 1257.6L1454.2 1253.4M1430.5 1257.6L1443.1 1265.9M1431.9 1247.8L1433.3 1250.6M1408.2 1282.6L1419.4 1289.6L1422.2 1286.8M1399.9 1266.6C1398 1266.3 1392.4 1266 1388.7 1264.8C1385 1263.6 1381.3 1262.3 1377.6 1259.2C1373.8 1256.2 1370.6 1249.7 1366.4 1246.7C1362.2 1243.7 1358 1242.2 1352.5 1241.1C1346.9 1240.1 1338.3 1241.2 1333 1240.4C1327.6 1239.6 1323.2 1238 1320.4 1236.2C1317.7 1234.4 1316.7 1231.8 1316.5 1229.7C1316.3 1227.5 1318.6 1224.5 1319 1223.4M1399.6 1268.7C1397.7 1268.4 1391.8 1268.2 1388 1267C1384.2 1265.8 1380.6 1264.5 1376.9 1261.5C1373.1 1258.4 1369.9 1251.9 1365.7 1248.9C1361.5 1245.9 1357.4 1244.4 1351.8 1243.3C1346.2 1242.3 1337.7 1243.4 1332.3 1242.5C1326.9 1241.6 1321.7 1240.2 1319.3 1238C1316.9 1235.9 1317.4 1232.1 1317.6 1229.7C1317.8 1227.2 1320 1224.5 1320.4 1223.4M1649.6 1332.7L1713.4 1332.7L1713.4 1344.8M1713.4 1398.5L1713.4 1410.6L1596 1410.6M1617.6 1338.5L1650.3 1355.3M1578.5 1353.2L1609.2 1370.6L1617.6 1369.2M1613.4 1376.2L1648.2 1358M1603.6 1364.3L1604.3 1369.2M964.5 1197.6C962.2 1199.9 955.2 1205.7 950.6 1211.5C945.9 1217.3 940.4 1226 936.7 1232.4C932.9 1238.8 929.4 1246.9 927.9 1249.8M934.9 1319.5C936.1 1320.7 938.7 1325.2 941.9 1326.5C945.1 1327.8 949.1 1328.2 954.1 1327.4C959 1326.5 965.1 1324.3 971.5 1321.3C977.9 1318.2 985.7 1313.4 992.4 1309.1C999.1 1304.7 1006.1 1299.5 1011.6 1295.1C1017.1 1290.8 1023.2 1285 1025.5 1282.9M1013.3 1244.6L1023.8 1249.8M934.9 1319.5C936.9 1316.3 942.2 1303.8 947.1 1300.3C952 1296.9 958.7 1300.1 964.5 1298.6C970.3 1297.2 976.1 1294.8 982 1291.6C987.8 1288.4 994.4 1283.5 999.4 1279.4C1004.3 1275.4 1007.8 1271.6 1011.6 1267.2C1015.3 1262.9 1020 1256.2 1022 1253.3C1024.1 1250.4 1023.5 1250.4 1023.8 1249.8M932.3 1305.6C934.2 1303.8 938.8 1297.2 943.6 1295.1C948.4 1293.1 955.2 1295.1 961 1293.4C966.9 1291.6 973.2 1288.2 978.5 1284.7C983.7 1281.2 988 1276.5 992.4 1272.5C996.8 1268.4 1001.1 1263.8 1004.6 1260.3C1008.1 1256.8 1011.9 1253 1013.3 1251.6M933.2 1281.2L947.1 1288.2M985.4 1255.1C986.2 1256.2 989.2 1259.1 989.8 1262C990.4 1264.9 989.8 1269.6 988.9 1272.5C988 1275.4 985.3 1278.3 984.6 1279.4M960.2 1237.6L975 1251.6M979.3 1234.1L988.9 1246.3M961 1246.3L973.2 1253.3M973.2 1241.1L982 1248.1M995.9 1246.3L1009.8 1256.8M992.4 1262L1002.9 1255.1L1022 1251.6M1016.7 1432.4L1082.9 1432.4L1082.9 1456.8M1030.6 1327L1041 1332.3M1097.7 1302.6L1103.8 1306.1L1102.9 1314.8M1046.3 1335.7C1047.1 1336 1051.1 1335.2 1051.5 1337.5C1051.9 1339.8 1049.6 1345.9 1048.9 1349.7C1048.2 1353.5 1047.2 1356.7 1047.1 1360.1C1047.1 1363.6 1047.7 1366.5 1048.4 1370.6C1049 1374.7 1051 1379.4 1051.1 1384.5C1051.3 1389.6 1051.2 1396.6 1049.4 1401.1C1047.6 1405.6 1045.5 1407.5 1040.2 1411.5C1034.9 1415.6 1024.9 1421 1017.5 1425.5C1010.1 1429.9 999.4 1436.1 995.7 1438.2M985.3 1440.3L985.3 1451.6M1140.3 1393.2C1141.2 1390 1142.7 1380.8 1145.6 1374.1C1148.5 1367.4 1152.8 1359.6 1157.8 1353.2C1162.7 1346.8 1168.5 1340.4 1175.2 1335.7C1181.9 1331.1 1191.7 1327.6 1197.8 1325.3C1203.9 1323 1209.5 1322.4 1211.8 1321.8M1211.8 1321.8L1244.9 1345.3M1197.8 1312.2L1236.2 1337.5M1122.1 1349.7L1133.4 1354.9M1220.5 1354.9L1241.4 1367.1L1245.7 1366.2M1168.2 1356.7L1197.8 1372.3M1166.5 1374.9L1157.8 1384.5M1136.9 1414.1L1136 1452.5M1136.9 1414.1C1138.3 1415 1142.7 1416.2 1145.6 1419.4C1148.5 1422.6 1152.4 1427.8 1154.3 1433.3C1156.2 1438.8 1156.5 1449.3 1156.9 1452.5M1236.2 1393.2L1271 1374.9M1124.7 1403.7L1136.9 1409.8M1171.7 1381L1183.9 1386.3L1164.7 1395M1168.2 1449L1173.4 1445.5L1176.1 1448.1L1170 1451.6M364.5 484.4L316.4 484.4L316.4 502.7M369.7 490.9L380.2 483.1L388 488.3L397.6 487M369.7 490.9L380.2 497.5L388 492.7L397.6 487M375.8 487.5L381 490.5L392.4 484.8M388 488.3L391.5 491.8L401.1 488.3M693.3 640.1L698.5 643.2L703.2 640.1M698.5 643.2L698.5 649M621.9 681.4L627.2 684.5L631.9 681.4M627.2 684.5L627.2 690.3M363.7 1234.2L363.7 1242L392.7 1242M484.1 1241.4L542.3 1241.4L542.3 1118.2M341 1212.4L356.3 1218.9L368.3 1212.4M356.3 1218.9L356.3 1236.8M534.9 1100.7L551.5 1106.8L562.3 1100.7M551.5 1106.8L551.5 1124.1"/></g><g fill="none" stroke="#000" stroke-width="1" stroke-dasharray="11 6"><path d="M319.7 1153.3L441.6 1064.6M371.5 1215.2L536.8 1116.4"/></g><g fill="none" stroke="#000" stroke-width="1.3" stroke-dasharray="17 5 4 5"></g><g fill="none" stroke="#000" stroke-width="2" stroke-dasharray="24 7.5"><path d="M1510 764.5L1832 764.5L1832 986L1651 986L1510 904L1510 764.5M1637 1043.5L1834 1158L1834.3 1384.5L1734.6 1443L1541 1443L1541 1287L1460 1240.6L1460 1145.4L1637 1043.5M968 1109.6L1305 1300L1305 1445L1108 1559L877 1425L877 1163.6L968 1109.6"/></g><g fill="none" stroke="#000" stroke-width="2" stroke-dasharray="40 8 6.5 8.5"><path d="M393.4 496L471.6 541" stroke-dashoffset="15"/><path d="M558 595.4L607.6 624.1" stroke-dashoffset="49.5"/><path d="M630 715.4L1165 1017L1165 914.2L1507 1112.5" stroke-dashoffset="15"/><path d="M1333 852L1333 894.5L1598.8 1047.8L1599.4 1127" stroke-dashoffset="50.5"/><path d="M699.8 880.5L838.3 960.2L838.3 1184L888.7 1213.2" stroke-dashoffset="0"/><path d="M1482.8 1227.6L1583.7 1168.9" stroke-dashoffset="40"/></g><g fill="none" stroke="#000" stroke-width="2" stroke-dasharray="37 9 6.5 9 6.5 9.5"><path d="M641 644L1110 914.5L1110 649L1481.5 432.5L1562 477.5" stroke-dashoffset="46"/></g><g fill="none" stroke="#000" stroke-width="1.8" stroke-linejoin="round" stroke-linecap="round"><path d="M1513.2 1115L1554 1138.4M607 661L464.7 1013.9L238.5 1013.9L238.5 1291.8L618 1291.8L618 1013.9L526.6 1013.9L607 661M1553.2 481C1550.8 479.3 1552.3 478 1555.3 478.9C1558.2 479.8 1568.6 484.5 1570.9 486.2C1573.3 487.9 1572.5 489.7 1569.5 488.8C1566.6 487.9 1555.6 482.6 1553.2 481ZM1556.7 478.7C1558.1 478.2 1560.7 474.1 1565.4 475.4C1570 476.7 1578.4 483 1584.5 486.6C1590.6 490.1 1596.4 494.2 1602 496.7C1607.5 499.2 1612.4 499.6 1617.6 501.5C1622.9 503.5 1627.2 505.3 1633.3 508.5C1639.4 511.7 1650.7 518.7 1654.2 520.7M1552.8 481.8C1554.3 484.3 1558.3 490.7 1561.9 496.7C1565.4 502.6 1570 511.3 1574.1 517.6C1578.1 523.8 1582.6 529.7 1586.3 534.1C1590 538.5 1594.7 542.4 1596.4 544M1572.3 496.7C1573.4 498.5 1575.7 503.5 1578.4 508C1581.2 512.5 1585 518.9 1588.9 523.7C1592.8 528.4 1599.8 534.3 1602 536.4M1572.3 495.3L1584.5 490.7M1584.5 490.7C1587.4 492.2 1596.4 497.6 1602 499.8C1607.5 501.9 1612.7 501.8 1617.6 503.6C1622.6 505.4 1627.2 508 1631.6 510.6C1635.9 513.1 1640 516.9 1643.8 519C1647.5 521 1652.5 522.1 1654.2 522.8M1582.8 510.6L1610.7 503.3M1600.2 548.9C1602.2 547.8 1607.5 543.7 1612.4 542C1617.3 540.2 1624.6 539.3 1629.8 538.5C1635.1 537.7 1641.4 537.3 1643.8 537.1M1651.6 535.9C1653.8 536.1 1660.5 536.1 1664.7 537.1C1668.9 538.1 1673.2 540 1676.9 542C1680.5 543.9 1684.8 547.8 1686.4 548.9M1602 557.6C1604 556.3 1609.5 552 1614.1 549.8C1618.8 547.6 1625.2 545.9 1629.8 544.6C1634.5 543.3 1640 542.4 1642 542M1652.5 542C1654.5 542.1 1660.9 542.1 1664.7 542.8C1668.4 543.5 1671.9 544.7 1675.1 546.3C1678.3 547.9 1682.4 551.4 1683.8 552.4M1642 523.1L1642.9 537.1L1643.8 545.4L1651.6 545.4L1651.6 535.9L1653.3 524M1593.6 546.3C1593.7 550.5 1592.7 565.3 1594.1 571.6C1595.5 577.8 1599.2 580.7 1602 583.8C1604.7 586.8 1609.2 588.8 1610.7 589.9M1610.7 589.9L1611.5 595.1L1620.8 592.8L1622 586.4M1622 586.4C1625 586.8 1634.3 588.4 1640.3 588.6C1646.2 588.9 1654.8 588.2 1657.7 588.1M1657.7 588.1L1659.4 596L1665 596M1665 596C1667.9 594.5 1677.6 590.4 1682.1 587.2C1686.5 584.1 1689.6 579.7 1691.7 576.8C1693.7 573.9 1693.9 574.6 1694.3 569.8C1694.7 565 1694.3 551.7 1694.3 548M1613.3 573.3L1613.3 583.8L1610.7 589.9M1617.6 575.1L1617.6 585.5L1620.8 592.8M1613.3 583.8L1617.6 585.5M1562.8 649.6L1554 644L1553.5 630.1L1567.5 620.5L1571.8 621.4L1589.2 631.8M1589.2 631.8L1580.5 636.7M1562.8 649.6L1598.8 630.1L1634.5 620.5L1669.4 611.3L1673.7 613.5L1707.7 645.7M1598.8 630.1L1599.7 624L1607.5 619.6L1609.3 625.7M1620.6 622.2L1619.7 611.8L1624.9 606.6L1631 607.4L1634.5 611.8L1633.7 620.5M1619.7 611.8C1620.6 612.2 1622.5 614.4 1624.9 614.4C1627.4 614.4 1632.9 612.2 1634.5 611.8M1562.8 649.6L1561 673.3L1559.6 674L1560 675.7L1594.8 694.9M1611.9 675.4C1609.8 673.9 1603 670.1 1599.7 666.7C1596.3 663.2 1592.4 658.8 1591.8 654.5C1591.3 650.1 1592.9 644.7 1596.2 640.5C1599.5 636.3 1605.5 632.1 1611.9 629.2C1618.3 626.3 1626.7 623.8 1634.5 623.1C1642.4 622.4 1651.4 623.1 1658.9 624.8C1666.5 626.6 1674.3 630.1 1679.8 633.6C1685.3 637 1689.6 642.3 1692 645.7C1694.5 649.2 1695.5 651.3 1694.6 654.5C1693.8 657.7 1690.4 661.4 1686.8 664.9C1683.2 668.4 1678.7 672.6 1672.9 675.4C1667 678.1 1658.9 680.4 1652 681.5C1645 682.5 1637.7 682.5 1631 681.5C1624.4 680.4 1615.1 676.4 1611.9 675.4M1593.6 651.8C1595.2 651.4 1600.8 650.5 1603.2 649.2C1605.5 648 1606.8 645.2 1607.5 644.4M1607.5 644.4L1641.5 634.9L1642.4 637.9L1645 637.9L1645 635.6L1652.8 636.7L1653.7 646.6L1662.4 644L1665.5 642.3L1665 634.4L1667.6 632.7L1678.1 635.3L1694.6 654.5M1693.8 659.7L1704.2 664.9L1697.2 650.1M1611.9 675.4L1606.7 677.1L1597.6 684.1L1595.3 701.5L1594.8 705.3M1594.8 705.3C1597.9 707.7 1607 716.1 1613.6 719.8C1620.2 723.5 1627.6 726 1634.5 727.6C1641.5 729.3 1647.9 730.3 1655.4 729.7C1663 729.1 1669.4 727 1679.8 724.1C1690.3 721.2 1711.8 714.3 1718.2 712.3M1597.1 703.2C1600.4 705.3 1609.4 712.3 1617.1 715.8C1624.8 719.3 1635.1 722.9 1643.2 724.1C1651.4 725.4 1653.5 726 1665.9 723.4C1678.2 720.9 1708.7 711.3 1717.3 708.8M1699 649.2L1714.7 687.6L1717.3 710.2M1707.7 646.1L1714.7 644L1770.4 636.7L1776.5 637.9M1776.5 637.9C1779 639.5 1787.5 644.2 1791.3 647.5C1795.1 650.8 1796.7 653.6 1799.2 657.9C1801.6 662.3 1804.8 667.5 1806.1 673.6C1807.5 679.7 1807.1 691 1807.4 694.5M1720.8 644.7L1770.4 637M1719.9 645.4L1770.4 637.7M1776.5 637.9L1791.3 667.5M1807.4 694.5L1791.3 700.1M1707.7 646.1L1706 650.1L1733.8 665.3L1746 660.6L1714.7 644.4M1733.8 665.3L1733.8 671L1745.2 666.7L1746 660.6M1717.3 710.2L1721.6 710.2L1721.6 706.4L1726.9 705.3L1729.5 710.2L1746.9 708.5L1747.8 704.1L1755.6 702.4L1756.5 706.7L1778.3 703.2L1779.1 712.3L1791.3 710.6L1791.3 700.1M1780.9 699.8L1780.9 710.2M1789.6 698.9L1789.6 709.3M1737.3 699.8L1738.2 723.3L1743.4 723.3L1742.9 712M1736.4 712L1737 723.3M1601.4 707.6L1602.3 722.4L1611 726.8L1613.6 718.9M1605.8 710.2L1606.7 724.1M1610.1 712L1610.5 725.9M1578.5 832.7L1625.9 820.2L1629.4 819.7L1632.5 822.3L1632.5 846.7M1578.5 832.7L1578.5 892.8L1581.5 894.6L1601.5 890.2M1581.5 834.8L1629.4 822.3M1581.5 834.8L1581.5 894.6M1596.3 853.6L1616.3 849.3L1616.3 853.6M1596.3 853.6L1596.3 867.6L1601.5 866.7M1597.1 864.1L1608.5 861.5M1641.6 846.7L1641.6 886.7M1647.7 845.8L1647.7 887.6M1632.9 853.6C1633.4 853.1 1634.9 851.2 1636.3 850.5C1637.8 849.8 1640.7 849.5 1641.6 849.3M1647.7 848.4C1648.5 848.5 1651.6 848.5 1652.9 849.3C1654.2 850 1655.1 852.2 1655.5 852.8M1632.9 853.6C1633.1 854.8 1634.6 858.3 1634.6 860.6C1634.6 862.9 1632.7 865.2 1632.9 867.6C1633 869.9 1635.3 872.2 1635.5 874.5C1635.6 876.9 1633.3 879.6 1633.7 881.5C1634.2 883.4 1637.4 885.1 1638.1 885.9M1655.5 852.8C1655.2 853.9 1653.6 857.4 1653.8 859.7C1653.9 862 1656.4 864.4 1656.4 866.7C1656.4 869 1653.9 871.3 1653.8 873.7C1653.6 876 1655.9 878.6 1655.5 880.6C1655.1 882.7 1651.9 885 1651.1 885.9M1638.1 846.7L1652 845.3M1599.8 881.5C1600.3 883.2 1600.6 888.5 1603.2 892C1605.9 895.4 1610.5 899.8 1615.4 902.4C1620.4 905 1627 906.6 1632.9 907.6C1638.7 908.6 1644.8 908.8 1650.3 908.5C1655.8 908.2 1661.6 907.2 1666 905.9C1670.3 904.6 1674.7 901.5 1676.4 900.7M1601.5 890.2C1603.8 892.7 1609.9 901.7 1615.4 905C1621 908.4 1628.5 909.3 1634.6 910.2C1640.7 911.2 1645.3 911.8 1652 910.8C1658.7 909.8 1670.9 905.2 1674.7 904.1M1683.4 860.6L1686 860.6L1688.6 874.5L1677.3 888.5M1603.2 895.4L1603.2 921.6M1603.2 921.6C1604.7 923.9 1606.7 929.7 1612 935.5C1617.2 941.3 1628.8 952.1 1634.6 956.4C1640.4 960.8 1644.8 960.8 1646.8 961.6M1646.8 961.6L1679.9 967.7L1680.8 970L1693.8 970L1693.8 973.8L1718.2 970.7L1718.2 964.3L1761.8 955.5L1761.8 959.9L1775.7 957.8L1775.7 952.9L1787 949.4L1786.2 909.4M1605.9 898.9L1608.5 926.8L1612 930.3M1610.2 926.8L1615.4 907.6M1612 929.4L1618.9 905.9M1645.1 909.4L1648.5 951.2L1662.5 949.4L1659.9 909.4M1648.5 914.6L1658.1 913.2M1649.4 923.3L1659 921.9M1652.9 923.3L1653.8 949.4M1658.1 923.3L1658.6 949.1M1651.1 951.2L1651.7 961.6M1657.2 950.3L1657.6 962.5M1679 888.5L1692.1 876.3L1711.3 885L1712.1 907.6L1695.6 919.8L1679 911.1L1679 888.5M1711.3 886.4L1739.1 882.4L1768.7 878M1768.7 878C1769.9 878.9 1773.4 879.8 1775.7 883.2C1778 886.7 1780.9 894.6 1782.7 898.9C1784.4 903.3 1785.6 907.6 1786.2 909.4M1739.1 882.4L1747.8 878.9L1747.8 873.7L1751.3 873.7L1751.3 879.8M1739.1 885.9L1770.5 881.5M1760.9 878.9L1764.4 885L1771.4 883.2M1713 899.8L1721.7 898L1733.9 897.2L1734.8 901.5L1714.7 904.1M1721.7 898L1720.8 890.2L1724.3 889.3L1725.2 897.2M1730.4 900.7L1732.2 907.6M1756.6 905L1768.7 899.8L1780.1 904.1L1780.1 907.6L1758.3 909.4M1748.7 912.9L1765.3 910.2L1765.3 939L1752.2 941.6L1748.7 912.9M1698.2 952.9L1699.1 966.9L1713 965.1L1712.1 951.2M1701.7 954.7L1702.2 963.4L1709.2 962.5L1708.6 953.8M1761.8 944.2L1762.6 959L1774.8 957.3L1774.8 943.3M1765.3 946L1765.6 955.5M1771.4 945.1L1771.7 954.7M1786.2 912.9L1788.8 914.6L1789.3 930.3L1787 931.1M1729.5 817.9L1740.9 815.6L1746.1 817.9L1754.8 815.6L1755.7 813.9L1768.7 813.2L1775.7 830.1L1776.6 849.3L1768.7 851.9L1749.6 856.2L1737.4 855.4L1729.5 817.9M1729.5 817.9L1737.4 835.3L1737.4 855.4M1737.4 835.3L1751.3 836.2L1775.7 830.1M1740.9 815.6L1747.8 832.7M1749.6 838.8L1750.5 848.4L1754.8 849.3M1758.3 838.8L1759.2 847.5M1763.5 837.9L1764.4 846.7M1749.6 851.9L1767 849.3M1756.6 815.6L1756.9 819.1M1768.7 813.6C1769 812.7 1769.3 809.4 1770.5 808.3C1771.6 807.2 1774.1 806.5 1775.7 806.9C1777.3 807.4 1779.2 809.3 1780.1 810.9C1780.9 812.6 1781.7 815.9 1780.9 817C1780.2 818.2 1776.6 817.8 1775.7 817.9M1772.2 820.5C1773.1 820.2 1775.7 818.5 1777.5 818.8C1779.2 819.1 1781.7 819.9 1782.7 822.3C1783.7 824.6 1784.4 827.5 1783.6 832.7C1782.7 837.9 1778.5 850.1 1777.5 853.6M1778.3 820.5C1778.8 822 1780.7 826 1780.9 829.2C1781.2 832.4 1780.2 837.9 1780.1 839.7M1729.5 836.2C1728.7 834.8 1725 830.7 1724.3 827.5C1723.6 824.3 1724.2 819.7 1725.2 817C1726.2 814.4 1728.4 812.8 1730.4 811.8C1732.5 810.8 1735.4 810.3 1737.4 810.9C1739.4 811.6 1741.7 814.9 1742.6 815.6M1722.6 834.5C1721.6 834.5 1718.2 835 1716.5 834.5C1714.7 833.9 1712.9 831.6 1712.1 831M1698.2 829.2L1701.7 825.4L1713 830.1L1709.9 834.1ZM1713 832.7C1714.4 835 1717.6 842.3 1721.7 846.7C1725.8 851 1731.9 856.3 1737.4 858.9C1742.9 861.4 1749 860 1754.8 862C1760.6 864 1767 866.9 1772.2 871C1777.5 875.2 1782.4 880.9 1786.2 886.7C1789.9 892.5 1793.1 901.8 1794.9 905.9C1796.6 910 1796.3 910.2 1796.6 911.1M1757.4 813.6C1758.4 812 1760.5 806.4 1763.5 804C1766.6 801.6 1771.4 799.4 1775.7 799.3C1780.1 799.1 1785.3 800.1 1789.7 803.1C1794 806.1 1798.7 810.4 1801.8 817C1805 823.7 1807.1 833 1808.8 843.2C1810.6 853.3 1811.4 867.9 1812.3 878C1813.2 888.2 1813.8 899.8 1814 904.1M1814 904.1C1813.6 904.7 1811.4 906.6 1811.4 907.6C1811.4 908.6 1813.2 910.4 1814 910.2C1814.9 910.1 1816.7 907.8 1816.7 906.8C1816.7 905.7 1814.5 904.6 1814 904.1M1795.7 911.1C1796.3 911.6 1798.7 912.3 1799.2 913.7C1799.7 915.2 1799.3 918.7 1798.7 919.8C1798.1 921 1796.2 920.6 1795.7 920.7M1768.7 878.9C1770.2 880.5 1774.8 884 1777.5 888.5C1780.1 893 1782.7 900.7 1784.4 905.9C1786.2 911.1 1787.3 917.5 1787.9 919.8M1301.3 691.3L1305.4 687.1L1364.7 653.7L1394.6 670.4L1396 672.5L1396 699L1377.2 718.5L1377.2 721.3M1301.3 691.3L1303.3 693.4L1307.5 696.2L1307.5 705.9M1396 687.8C1393.7 690.1 1385.6 698 1382.1 701.7C1378.6 705.5 1376.5 708 1375.1 710.1C1373.7 712.2 1373.4 712.9 1373.7 714.3C1374.1 715.7 1376.6 717.8 1377.2 718.5M1307.5 705.9L1302.6 703.8L1301.3 708L1279 722L1277.6 725.4L1277.6 733.8L1279.7 738L1285.2 736.6M1302.6 708L1290.1 722.6M1279 722.6L1284.5 726.1L1284.5 736.6M1285.2 736.6L1332.6 765.9L1334.7 765.9L1342.4 761.7M1290.1 723.3L1336.1 749.8L1336.8 754M1342.4 761.7L1343.8 753.3L1345.9 751.9L1347.2 758.2L1386.3 735.9L1386.3 724L1380.7 720.6L1377.2 721.3L1377.2 728.2L1380.7 727.5L1386.3 724M1347.2 758.2L1355.6 740.1L1358.4 737.3L1369.5 731L1375.1 739.4M1358.4 737.3L1365.4 743.6L1375.1 739.4M1284.8 814.1L1332.3 785.8L1381.7 813.4L1381.7 824.1L1332.6 851.3L1284.5 824.1L1284.8 814.1M1284.8 815.7L1329.8 842.5M1381.7 815.3L1336.1 842M1332.3 785.8L1332.3 787.9M1332.3 792.1C1334.8 792.5 1342.4 793.2 1347.2 794.8C1352.1 796.5 1357.5 799 1361.2 801.8C1364.9 804.6 1368.2 809.9 1369.5 811.6M1297.8 815.1C1298.4 815.9 1298.8 818 1301.3 819.9C1303.7 821.9 1308.5 824.8 1312.4 826.9C1316.4 829 1321.7 831 1324.9 832.5C1328.2 834 1330.8 835.4 1331.9 836M1365.4 815.7C1364.7 816.7 1363.7 819 1361.2 821.3C1358.6 823.6 1353.5 827.4 1350 829.7C1346.6 832 1341.9 834.3 1340.3 835.3M1298.5 813.7C1300.1 812.6 1304.5 808.9 1308.2 807.4C1311.9 805.9 1316.8 805.5 1320.8 804.6C1324.7 803.7 1331.2 803.4 1331.9 801.8C1332.6 800.2 1326.1 796 1324.9 794.8M1299.9 816.4C1302.2 815.6 1308.5 813.5 1313.8 811.6C1319.1 809.6 1328.9 805.8 1331.9 804.6M1331.9 793.4C1332.8 794.8 1334.9 799.7 1337.5 801.8C1340 803.9 1344.9 804.1 1347.2 806C1349.6 807.9 1348.2 812.5 1351.4 813C1354.7 813.4 1363.7 808.8 1366.8 808.8C1369.8 808.8 1369.1 812.3 1369.5 813M1333.3 792.8C1335.6 793.3 1343.1 794.5 1347.2 796.2C1351.4 798 1354.9 801.2 1358.4 803.2C1361.9 805.2 1366.5 807.3 1368.2 808.1M1299.9 818.5C1300.8 819.7 1302.2 823.4 1305.4 825.5C1308.7 827.6 1314.7 829.7 1319.4 831.1C1324 832.5 1331.5 834.6 1333.3 833.9C1335.2 833.2 1332.8 829 1330.5 826.9C1328.2 824.8 1321.9 823.2 1319.4 821.3C1316.8 819.5 1315.9 816.7 1315.2 815.7M1365.4 817.1C1363.5 817.1 1357.7 816.4 1354.2 817.1C1350.7 817.8 1346.8 819.9 1344.5 821.3C1342.1 822.7 1341 824.8 1340.3 825.5M1329.8 821.3L1333.3 818.5L1338.2 817.1L1340.3 821.3L1340.3 825.5L1336.1 828.3L1330.5 827.6L1329.8 821.3M1336.1 829.7L1342.4 829L1341.7 832.5L1337.5 833.2M1285.9 821.3L1286.6 824.1L1290.1 823.4L1289.4 820.6M1325.6 841.5L1325.6 844.3M1329.8 843.6L1336.1 843.6M1345.9 838L1345.9 842.2L1351.4 839.4L1351.4 834.6L1345.9 836M1364 826.9L1364 831.8M1483.6 1172.4L1551.5 1135.8L1603.8 1107.1M1483.6 1172.4L1482.7 1222.1L1490.5 1226.4L1599.4 1291.7L1614.2 1283.9M1553.2 1164.6L1562 1167.2L1568.9 1162L1568.9 1158.5L1575.9 1155M1572.4 1198.5L1602.9 1182L1603.8 1214.2M1572.4 1198.5L1570.7 1245.6M1574.1 1202L1614.2 1224.7L1615.1 1229.9M1616.8 1184.6L1617.7 1222.9M1591.6 1164.6L1594.2 1185.5M1603.8 1107.1L1605.5 1102.7L1649.1 1077.5L1651.7 1077.5L1653.4 1080.9L1662.1 1086.2L1667.4 1082.7L1683.9 1092.3L1684.8 1094.9L1764 1148.9L1764.9 1153.2L1750.1 1160.2M1608.1 1108.8L1651.7 1083.6M1603.8 1107.1L1607.2 1105.3L1612.5 1107.1L1612.5 1109.7M1683.9 1092.3L1684.8 1116.7L1675.2 1121.9L1674.3 1128.9L1664.7 1125.4L1664.7 1106.2L1668.2 1102.7M1668.2 1094L1670 1113.2M1673.4 1093.1L1674.3 1127.1M1668.2 1094L1675.2 1090.5L1683.9 1092.3M1570.7 1134.1C1571.5 1128.6 1579.1 1123.9 1584.6 1120.1C1590.1 1116.4 1597.1 1111.7 1603.8 1111.4C1610.4 1111.1 1618.9 1115.5 1624.7 1118.4C1630.5 1121.3 1636 1125.4 1638.6 1128.9C1641.2 1132.3 1641.5 1135.5 1640.3 1139.3C1639.2 1143.1 1636 1148.3 1631.6 1151.5C1627.3 1154.7 1620 1157 1614.2 1158.5C1608.4 1159.9 1602.6 1161.1 1596.8 1160.2C1591 1159.3 1583.7 1157.6 1579.4 1153.2C1575 1148.9 1569.8 1139.6 1570.7 1134.1ZM1551.5 1135.8L1555 1141L1631.6 1153.2M1555 1137.6L1579.4 1151.5M1635.1 1141L1635.1 1155L1641.2 1155L1640.3 1141M1635.1 1141C1635.6 1140.8 1636.9 1139.3 1637.7 1139.3C1638.6 1139.3 1639.9 1140.8 1640.3 1141M1628.2 1160.2L1642.1 1162L1653.4 1168.9L1653.4 1193.3L1622.9 1202L1622.1 1221.2L1624.7 1221.2L1663.9 1210.7L1663.9 1172.4M1642.1 1153.2L1664.7 1164.6L1682.2 1160.2L1683.9 1162L1717 1189.8M1664.7 1164.6L1670 1172.4L1671.7 1209.9M1605.5 1168.9C1606.4 1167.8 1608.4 1163.4 1610.7 1162C1613.1 1160.5 1618 1160.5 1619.4 1160.2M1596.8 1172.4C1598 1173 1602 1175.9 1603.8 1175.9C1605.5 1175.9 1605.8 1172.7 1607.2 1172.4C1608.7 1172.1 1610.2 1172.7 1612.5 1174.1C1614.8 1175.6 1619.7 1180 1621.2 1181.1M1617.7 1182.9L1622.9 1181.1M1640.3 1249.1L1659.5 1232.5L1672.6 1236L1654.3 1253.4M1666.5 1130.6L1696.1 1146.3L1725.7 1162L1760.6 1144.5M1693.5 1127.1L1696.1 1162L1697.8 1163.7L1701.3 1158.5M1693.5 1127.1L1697.8 1129.7L1701.3 1144.5M1715.3 1125.4L1716.1 1158.5M1697.8 1129.7L1706.6 1127.1L1715.3 1125.4L1710 1128.9M1703.1 1131.5L1703.9 1155M1708.3 1130.6L1709.2 1155.9M1730.1 1137.6L1730.9 1153.2M1745.7 1136.7L1746.6 1151.5M1730.1 1137.6L1736.2 1134.9L1745.7 1136.7M1734.4 1141L1735.3 1151.5L1744 1151.5L1744 1141M1734.4 1141C1735.2 1140.8 1737.2 1139.3 1738.8 1139.3C1740.4 1139.3 1743.1 1140.8 1744 1141M1750.1 1160.2L1746.6 1172.4L1757.1 1179.4L1765.8 1174.1L1767.5 1162L1764.9 1153.2M1753.6 1156.7L1760.6 1160.2L1761.4 1174.1M1764 1160.2L1763.2 1172.4M1717 1189.8L1718.7 1179.4L1744.9 1165.4M1708.3 1184.6L1713.5 1172.4L1748.4 1155M1614.2 1224.7L1607.2 1231.6L1607.2 1282.2M1607.2 1282.2C1608.7 1283.6 1612.5 1288.5 1616 1290.9C1619.4 1293.2 1623.2 1294.4 1628.2 1296.1C1633.1 1297.8 1639.2 1300.3 1645.6 1301.3C1652 1302.3 1657.2 1302.8 1666.5 1302.2C1675.8 1301.6 1691.2 1300 1701.3 1297.8C1711.5 1295.7 1723.1 1290.6 1727.5 1289.1M1727.5 1289.1L1814.6 1275.2L1817.2 1271.7L1817.2 1222.1L1807.6 1200.3L1781.5 1185.5L1720.5 1194.2L1717 1189.8M1609.9 1232.5C1612.3 1234.4 1618.1 1240.5 1624.7 1243.8C1631.2 1247.2 1639.8 1251.2 1649.1 1252.5C1658.4 1253.9 1667.6 1254 1680.4 1251.7C1693.2 1249.3 1718.2 1240.8 1725.7 1238.6M1725.7 1238.6L1734.4 1236.9M1740.5 1236L1762.3 1231.6M1768.4 1230.8L1817.2 1222.1M1734.4 1232.5L1734.4 1243.8L1739.7 1243L1739.7 1231.6L1734.4 1232.5M1762.3 1228.2L1762.3 1239.5L1767.5 1238.6L1767.5 1227.3L1762.3 1228.2M1720.5 1194.2L1722.2 1238.6M1614.2 1245.6L1619.4 1243.8L1622.9 1247.3L1621.2 1250.8M1614.2 1245.6L1611.6 1268.2L1616 1271.7L1622.9 1275.2L1622.9 1290.9L1628.2 1296.1M1616 1271.7L1616 1290.9M1903.8 1012.3L1910.1 1008.1L1915.7 1008.1L1949.8 1028.3L1950.5 1031.1L1939.4 1057.6L1938 1068.7L1931 1071.5L1930.3 1080.6L1921.3 1077.1L1915.7 1075.7L1912.9 1071.5L1901.7 1065.9L1897.6 1063.8L1896.2 1068.7M1883.6 1063.1L1880.8 1060.3L1881.5 1053.4L1883.6 1043.6L1889.2 1038L1892 1031.8L1897.6 1028.3L1897.6 1018.5L1903.8 1012.3M1904.5 1013L1939.4 1029.7L1938 1033.9L1931 1045L1928.2 1057.6L1922.6 1070.1L1921.3 1077.1M1939.4 1039.4L1933.8 1057.6L1931 1065.9L1925.4 1065.9M1937.3 1040.1L1940.1 1040.1M1899 1015.7L1900.3 1025.5L1892 1032.5M1940.8 1032.5L1944.9 1031.1L1946.3 1033.9M1883.6 1063.1C1882.2 1066.4 1877.8 1077.1 1875.3 1082.6C1872.7 1088.2 1869.7 1092.6 1868.3 1096.6C1866.9 1100.5 1866.8 1103.6 1866.9 1106.3C1867 1109.1 1868.8 1109.8 1869 1113.3C1869.2 1116.8 1869.3 1122.8 1868.3 1127.2C1867.2 1131.7 1864.6 1135.6 1862.7 1139.8C1860.9 1144 1858.1 1150.2 1857.1 1152.3M1857.1 1152.3L1858.5 1156.5L1868.3 1160L1871.8 1157.9M1871.8 1157.9C1872.8 1155.6 1876.3 1147.9 1878 1144C1879.8 1140 1881.3 1137.5 1882.2 1134.2C1883.2 1131 1883.7 1128.9 1883.6 1124.5C1883.5 1120 1881.1 1112.4 1881.5 1107.7C1882 1103.1 1884.7 1100.3 1886.4 1096.6C1888.2 1092.9 1890.4 1090.1 1892 1085.4C1893.6 1080.8 1895.5 1071.5 1896.2 1068.7M1883.6 1063.1L1889.2 1065.9L1897.6 1063.8M1427.7 1247.1L1434.7 1242.2L1441.7 1241.5L1454.9 1252L1455.6 1265.9L1449.3 1270.8L1445.9 1270.1L1443.1 1266.6L1430.5 1259L1428.4 1254.8ZM1436.1 1252L1438.9 1251.3M1436.8 1256.2L1438.9 1254.8M1443.8 1256.2C1444.2 1255.9 1446.4 1254.3 1446.6 1254.8C1446.7 1255.2 1444.3 1258 1444.5 1259C1444.6 1259.9 1447.2 1259.5 1447.2 1260.3C1447.2 1261.2 1444.9 1263.3 1444.5 1263.8M1438.9 1241.5L1447.2 1247.1M1443.1 1266.6L1455.6 1263.8M1448.6 1245.7L1482.8 1227.6M1399.9 1261L1408.2 1256.2L1426.3 1267.3L1428.4 1271.5L1428.4 1282.6L1422.2 1286.8L1422.2 1290.3L1418.7 1293.1L1407.5 1285.4L1399.9 1275.7L1399.9 1261M1399.9 1261L1402 1262.4L1419.4 1271.5L1426.3 1267.3M1419.4 1271.5L1419.4 1286.1M1402 1262.4L1401.3 1275.7L1419.4 1286.1L1427.7 1282.6M1425.6 1278.5L1425.6 1281.3M1594.6 1402.6L1594.6 1413.1M1592.5 1411.7L1596.7 1411.7L1594.6 1413.8L1592.5 1411.7M1589.7 1346.9C1590.2 1345.5 1590.2 1341.2 1592.5 1338.5C1594.8 1335.9 1599.4 1332.5 1603.6 1330.9C1607.8 1329.2 1615.2 1329.1 1617.6 1328.8M1625.9 1330.9L1634.3 1325.3L1659.4 1339.9L1659.4 1342.7L1655.9 1352.5L1649.6 1356M1617.6 1328.8L1623.1 1330.9L1616.2 1335.1L1614.8 1338.5L1616.2 1343.4L1621.7 1346.9L1623.1 1344.1L1630.1 1346.9M1616.2 1335.1L1651 1352.5M1625.9 1330.9L1651 1345.5L1659.4 1340.6M1651 1345.5L1649.6 1356M1634.3 1326L1632.9 1333.7L1625.9 1330.9M1576.4 1349.7L1582 1346.2L1589.7 1349L1598 1352.5L1616.2 1363.6L1617.6 1365M1576.4 1349.7L1575.1 1357.4L1609.2 1376.9L1617.6 1378.3M1617.6 1378.3C1619.7 1377.8 1626.4 1376.7 1630.1 1375.5C1633.8 1374.2 1636.8 1372.3 1639.9 1370.6C1642.9 1368.9 1646.6 1367.1 1648.2 1365C1649.8 1362.9 1649.4 1359.2 1649.6 1358M1576.4 1349.7L1609.2 1365L1610.6 1369.2M1600.8 1353.9C1601.8 1353.2 1604.1 1350.7 1606.4 1349.7C1608.7 1348.6 1613.4 1347.9 1614.8 1347.6M1600.8 1353.9L1620.3 1365L1645.4 1351.1M1589.7 1349L1592.5 1351.1L1609.2 1360.8M988.9 1189.2C986 1189.7 976.7 1190.4 971.5 1192.3C966.3 1194.3 962.5 1196.7 957.6 1201C952.6 1205.4 947.1 1212.1 941.9 1218.5C936.7 1224.9 930.6 1232.4 926.2 1239.4C921.8 1246.3 918.2 1253.3 915.7 1260.3C913.3 1267.2 912 1274.8 911.4 1281.2C910.8 1287.6 911.2 1293.7 912.3 1298.6C913.3 1303.5 914.6 1307 917.5 1310.8C920.4 1314.6 925.6 1318.1 929.7 1321.3C933.8 1324.4 937.2 1327.8 941.9 1330C946.5 1332.1 952.3 1333.9 957.6 1334.3C962.8 1334.8 968 1334.2 973.2 1332.6C978.5 1331 983.1 1328.1 988.9 1324.7C994.7 1321.4 1002 1316.9 1008.1 1312.5C1014.2 1308.2 1021.4 1302.7 1025.5 1298.6C1029.6 1294.5 1031.3 1289.9 1032.5 1288.2M1032.5 1288.2C1032.9 1284.1 1034.3 1271.9 1034.7 1263.8C1035.2 1255.6 1035.5 1246.9 1035.1 1239.4C1034.7 1231.8 1034.4 1223.7 1032.5 1218.5C1030.6 1213.2 1027.2 1210.8 1023.8 1208C1020.3 1205.3 1013.6 1202.9 1011.6 1201.9M988.9 1189.2L1011.6 1201.9M1006.3 1202.8C1004 1203.4 997.6 1203.9 992.4 1206.3C987.2 1208.6 980.8 1211.8 975 1216.7C969.2 1221.7 962.8 1229.2 957.6 1235.9C952.3 1242.6 947.4 1250.4 943.6 1256.8C939.8 1263.2 936.9 1268.7 934.9 1274.2C932.9 1279.7 932 1284.7 931.4 1289.9C930.8 1295.1 930.8 1300.6 931.4 1305.6C932 1310.5 934.3 1317.2 934.9 1319.5M1006.3 1202.8C1007.5 1204.8 1011.9 1210 1013.3 1215C1014.8 1219.9 1015.1 1227.5 1015.1 1232.4C1015.1 1237.3 1013.6 1242.6 1013.3 1244.6M1023.8 1249.8L1022 1277.7L1020.3 1284.7L1030.7 1289.9M915.7 1228C917.5 1225.3 921.8 1217.2 926.2 1211.5C930.6 1205.8 936.4 1199.4 941.9 1194.1C947.4 1188.8 956.4 1182.2 959.3 1179.8M959.3 1179.8L964.5 1179.8L965.4 1194.9M915.7 1228L926.2 1234.1M989.8 1194.9L994.1 1192.3L1018.5 1201L1019.4 1205.4L1009.8 1206.3L989.8 1194.9M1002.9 1197.6L1009.8 1204.5M900.1 1272.5L905.3 1264.6L912.3 1266.4M900.1 1272.5L910.5 1279.4M1035.1 1272.5L1047.3 1279.4L1042.9 1282.9L1034.2 1278.6M1018.5 1303L1029.9 1308.2L1029 1310.8L1020.3 1307.3M922.7 1316.9L936.7 1323M936.7 1330L961.9 1346.5L964.5 1343.9L954.1 1335.2M926.2 1258.5L929.7 1254.2L943.6 1262L957.6 1267.2L964.5 1268.1L962.8 1271.6L950.6 1268.1L936.7 1262.9L926.2 1258.5M943.6 1256.8L947.1 1249.8L954.1 1248.1L958.4 1253.3L955.8 1258.5M936.7 1262.9L950.6 1274.2M950.6 1263.8L947.1 1277.7M934.9 1274.2L950.6 1284.7L954.1 1289.9L964.5 1284.7L971.5 1281.2M936.7 1279.4L952.3 1286.4M945.4 1289.9L955.8 1295.1L961 1284.7M990.7 1233.3L999.4 1239.4L1008.1 1237.6L999.4 1230.7M997.6 1239.4L1011.6 1248.1L1013.3 1244.6M971.5 1282.9C972.4 1282.6 975.3 1280.9 976.7 1281.2C978.2 1281.5 980.2 1283.7 980.2 1284.7C980.2 1285.7 977.3 1286.8 976.7 1287.3M888.7 1213.2L925.3 1234.1M1024.5 1335.7L1039.3 1311.4L1051.5 1317.5L1046.3 1330.5L1042.8 1337.5L1036.7 1341.8L1024.5 1335.7M1039.3 1311.4L1037.6 1314.8L1048.9 1320.9M1041 1317.5L1039.3 1325.3M1051.5 1320.1C1053 1321.2 1057.6 1325 1060.2 1327C1062.8 1329.1 1064.6 1331.2 1067.2 1332.3C1069.8 1333.3 1073.3 1334.3 1075.9 1333.1C1078.5 1332 1080.8 1328.6 1082.9 1325.3C1084.9 1322 1085.8 1316 1088.1 1313.1C1090.4 1310.2 1095.3 1308.7 1096.8 1307.9M1095.9 1299.2L1105.5 1290.5L1115.1 1296.6L1116 1312.2L1108.1 1320.9L1100.3 1321.8L1096.8 1311.4L1095.9 1299.2M1105.5 1290.5L1104.6 1293.9L1114.2 1300M1111.6 1295.7L1114.2 1302.6M1100.3 1320.9C1098 1322.5 1091 1327.2 1086.3 1330.5C1081.7 1333.9 1076.5 1337.5 1072.4 1341C1068.3 1344.5 1064 1348.8 1062 1351.4C1059.9 1354 1060.2 1354 1060.2 1356.7C1060.2 1359.3 1061.4 1363.6 1062 1367.1C1062.5 1370.6 1063.5 1373.5 1063.7 1377.6C1063.8 1381.6 1064 1386.9 1062.8 1391.5C1061.7 1396.1 1060.1 1401.1 1056.7 1405.4C1053.4 1409.8 1049.5 1413.3 1042.8 1417.6C1036.1 1422 1024.5 1427.4 1016.7 1431.6C1008.8 1435.8 999.2 1441 995.7 1442.9M1044.5 1334C1045.7 1334 1049.5 1333.1 1051.5 1334C1053.5 1334.9 1056.6 1336.6 1056.7 1339.2C1056.9 1341.8 1053.4 1346.5 1052.4 1349.7C1051.4 1352.9 1050.6 1354.9 1050.6 1358.4C1050.6 1361.9 1051.6 1366.2 1052.4 1370.6C1053.1 1374.9 1054.8 1379.6 1055 1384.5C1055.1 1389.5 1055.3 1395.6 1053.2 1400.2C1051.2 1404.9 1048.6 1408 1042.8 1412.4C1037 1416.8 1026.2 1421.8 1018.4 1426.3C1010.6 1430.8 999.5 1437.2 995.7 1439.4M1042.8 1337.5C1043.8 1337.8 1048.4 1337.2 1048.9 1339.2C1049.3 1341.3 1046.3 1346.2 1045.4 1349.7C1044.5 1353.2 1043.8 1356.7 1043.7 1360.1C1043.5 1363.6 1043.9 1366.5 1044.5 1370.6C1045.1 1374.7 1047 1379.3 1047.1 1384.5C1047.3 1389.8 1047 1397.6 1045.4 1402C1043.8 1406.3 1042.4 1406.9 1037.6 1410.7C1032.8 1414.4 1023.6 1420.2 1016.7 1424.6C1009.7 1429 999.2 1434.8 995.7 1436.8M974.8 1435.1L981.8 1429.8L995.7 1435.9L995.7 1448.1L986.2 1453.3L974.8 1446.4L974.8 1435.1M981.8 1429.8L982.7 1437.7L995.7 1442M982.7 1437.7L981.8 1450.7M977.5 1433.3L977.5 1447.2M986.2 1441.1L992.3 1443.8M1122.1 1402C1122.5 1399 1123.1 1390.9 1124.7 1384.5C1126.3 1378.1 1128.4 1370.6 1131.6 1363.6C1134.8 1356.7 1138.6 1349.1 1143.8 1342.7C1149.1 1336.3 1155.7 1330.4 1163 1325.3C1170.3 1320.2 1183.3 1314.4 1187.4 1312.2M1187.4 1312.2L1190.9 1310.5L1197 1312.2L1201.3 1308.7L1211.8 1314.8L1246.6 1344.5M1187.4 1312.2L1203.1 1318.3M1122.9 1402C1122.6 1403.7 1121.3 1408.9 1121.2 1412.4C1121 1415.9 1121.9 1421.1 1122.1 1422.9M1121.2 1339.2L1127.3 1337.5L1143 1346.2M1121.2 1339.2L1119.4 1347.9L1114.2 1349.7L1115.1 1353.2L1136.9 1363.6M1116 1356.7L1117.7 1361L1140.3 1374.1M1119.4 1370.6L1118.6 1377.6L1126.4 1382.8L1129.9 1375.8L1122.1 1370.6L1119.4 1370.6M1126.4 1384.5L1136.9 1391.5M1246.6 1344.5L1250.1 1341.8L1271 1354.9M1271 1354.9C1271.6 1356.4 1273.9 1358.7 1274.5 1363.6C1275.1 1368.6 1274.1 1378.7 1274.5 1384.5C1274.9 1390.3 1277.7 1391.8 1277.1 1398.5C1276.5 1405.1 1274.1 1417 1271 1424.6C1268 1432.1 1263.8 1438.5 1258.8 1443.8C1253.9 1449 1246.6 1453.5 1241.4 1456C1236.2 1458.4 1232.4 1459.2 1227.5 1458.6C1222.5 1458 1216.4 1454.9 1211.8 1452.5C1207.1 1450 1202.2 1447 1199.6 1443.8C1197 1440.6 1196.7 1435.1 1196.1 1433.3M1246.6 1344.5L1245.7 1370.6L1239.7 1370.6L1222.2 1357.5M1204.8 1368.9L1201.3 1370.6L1201.3 1391.5L1203.1 1394.1M1246.6 1344.5C1243.1 1345.3 1231.5 1347.1 1225.7 1349.7C1219.9 1352.3 1215.3 1356.9 1211.8 1360.1C1208.3 1363.3 1206 1367.4 1204.8 1368.9M1208.3 1365.4L1218.7 1370.6L1220.5 1379.3L1213.5 1381.9L1204.8 1374.1M1167.4 1349.7L1204.8 1368.9M1167.4 1349.7L1166.5 1374.9L1201.3 1393.2M1124.7 1402C1126.7 1401.2 1132.8 1399.3 1136.9 1397.6C1140.9 1395.9 1144.1 1393.7 1149.1 1391.5C1154 1389.3 1163.6 1385.7 1166.5 1384.5M1161.3 1388L1180.4 1402L1170 1408.9L1157.8 1399.3L1140.3 1408L1136.9 1414.1M1234.4 1391.5C1234.7 1392.7 1236.5 1395 1236.2 1398.5C1235.9 1402 1233.3 1410.1 1232.7 1412.4M1232.7 1412.4L1157.8 1452.5L1155.2 1457.7M1124.7 1402L1122.9 1419.4L1122.9 1442L1128.2 1449L1142.1 1456L1155.2 1457.7M1155.2 1457.7C1157.6 1457.4 1165.2 1456.8 1170 1456C1174.8 1455.1 1179.5 1454.2 1183.9 1452.5C1188.3 1450.7 1194.1 1446.7 1196.1 1445.5M1229.2 1377.6C1230.1 1378.7 1233.6 1382.2 1234.4 1384.5C1235.3 1386.9 1234.4 1390.3 1234.4 1391.5M1258.8 1402C1259.4 1404.3 1263.2 1411 1262.3 1415.9C1261.4 1420.8 1257.7 1428.4 1253.6 1431.6C1249.5 1434.8 1240.5 1434.5 1237.9 1435.1M1196.1 1433.3L1217 1437.7L1216.1 1442.9L1206.6 1440.3M1115.1 1419.4L1117.7 1418.5L1122.9 1431.6L1142.1 1433.3L1142.1 1439.4L1124.7 1436.8L1119.4 1431.6L1115.1 1419.4M1124.7 1436.8L1124.7 1443.8L1136.9 1447.2L1136.9 1439.4M1121.2 1405.4L1122.1 1424.6M364.5 477L367.1 474.8L371.5 473.3L379.3 477.9L385.8 473.5L387.6 479.6L402.8 489.6L385 500.3L380.2 497.5L375.8 497.5L370.6 494.4L367.5 495.3L366.2 488.3L364.5 484.8ZM698 637L703.2 640.1L703.2 645.8L698.5 649L693.3 645.8L693.3 640.1ZM626.6 678.2L631.9 681.4L631.9 687.1L627.2 690.3L621.9 687.1L621.9 681.4Z"/><ellipse cx="1643.9" cy="548" rx="50.3" ry="27.9"/><ellipse cx="1645.5" cy="549.3" rx="43.9" ry="24.4"/><ellipse cx="1644.2" cy="876.6" rx="44.4" ry="30"/><ellipse cx="1645.1" cy="872.8" rx="26.1" ry="16.6"/><ellipse cx="1366.8" cy="738" rx="1.8" ry="1.4"/><ellipse cx="1290.1" cy="813.7" rx="2.2" ry="1.3"/><ellipse cx="1332.6" cy="789.3" rx="1.7" ry="1.1"/><ellipse cx="1374.4" cy="813.7" rx="2.2" ry="1.3"/><ellipse cx="1331.2" cy="838.7" rx="2" ry="1.3"/><ellipse cx="1404" cy="1267.3" rx="1.1" ry="1.4"/><ellipse cx="1405.4" cy="1275" rx="1" ry="1.4"/><ellipse cx="1413.1" cy="1279.2" rx="1" ry="1.4"/><ellipse cx="1594.6" cy="1355.7" rx="1.7" ry="1.1"/><ellipse cx="979.3" cy="1267.2" rx="9.1" ry="15.3" transform="rotate(22 979.3 1267.2)"/><ellipse cx="1011.9" cy="1281.2" rx="4.9" ry="8" transform="rotate(18 1011.9 1281.2)"/><ellipse cx="1034.9" cy="1321.8" rx="2.1" ry="3.1" transform="rotate(20 1034.9 1321.8)"/><ellipse cx="1105.5" cy="1306.1" rx="1" ry="1.4"/><ellipse cx="1108.1" cy="1315.7" rx="1" ry="1.4"/><ellipse cx="1250.1" cy="1421.1" rx="3.8" ry="6.3" transform="rotate(25 1250.1 1421.1)"/></g><g font-family="'Liberation Sans', Arial, sans-serif" font-size="30.7" fill="#000"><text x="24.2" y="1618.7" font-size="33.2">58300000184884 aet 000 I 5/6</text><text x="1508.4" y="558.1">0505</text><text x="1800.4" y="751">0506</text><text x="1530.6" y="808.8">0503</text><text x="1659.5" y="798.2">0504</text><text x="1849.4" y="861.8">0502</text><text x="1244.4" y="644.7">0511</text><text x="1205.1" y="785.5">0512</text><text x="1857.8" y="1263.7">0513</text><text x="1942.4" y="1095.3">0508</text><text x="1343" y="1216.9">0510</text><text x="1447" y="1340.3">0509</text><text x="1329.5" y="1391.6">0520</text><text x="1679.2" y="1380.4">0515</text><text x="1052" y="1496.5">0521</text><text x="284.9" y="530.6">0514</text><text x="405.4" y="1253.3">0530</text></g></svg></body></html>
